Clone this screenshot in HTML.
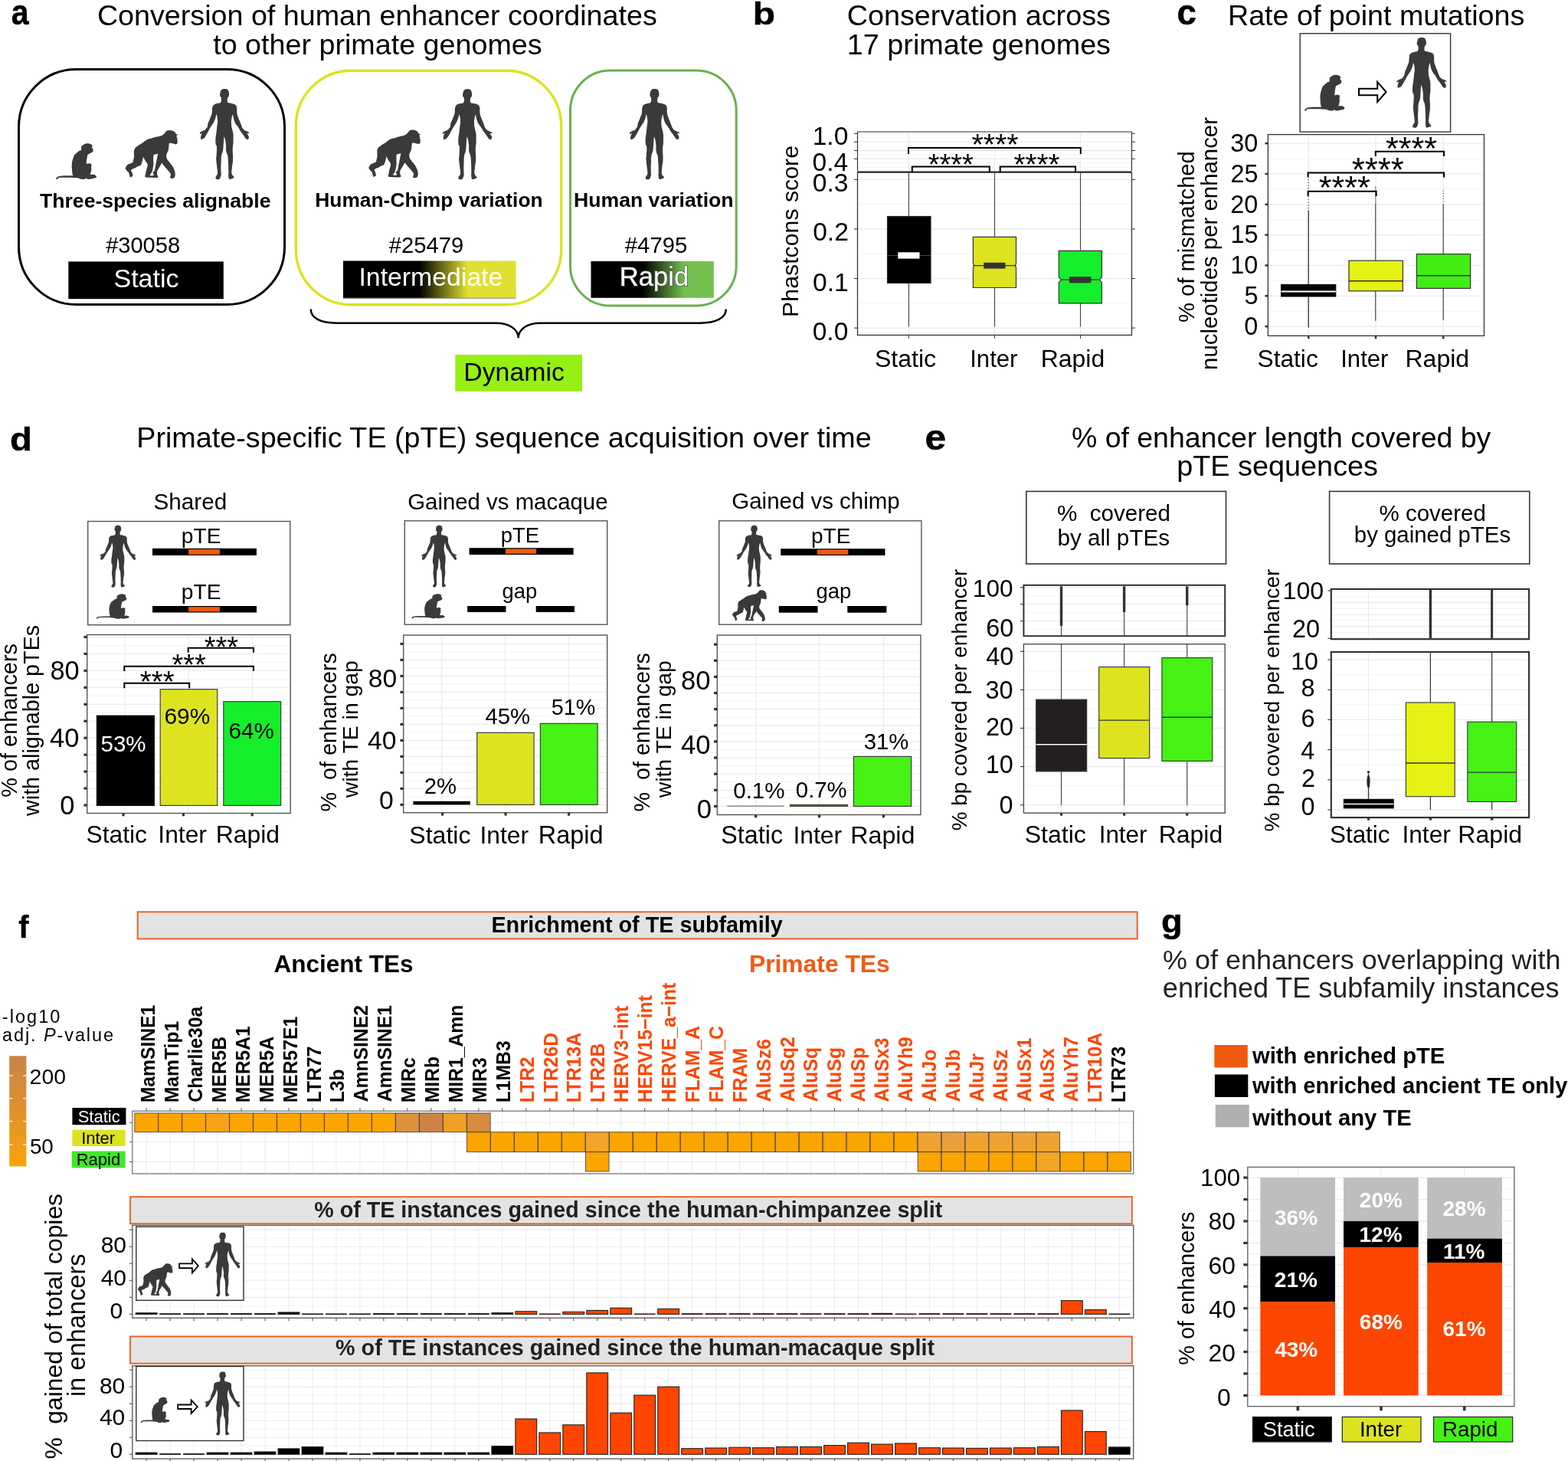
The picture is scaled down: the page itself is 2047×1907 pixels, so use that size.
<!DOCTYPE html>
<html><head><meta charset="utf-8"><title>Figure</title><style>html,body{margin:0;padding:0;background:#fff;}svg{display:block;}text{font-family:"Liberation Sans",Arial,Helvetica,sans-serif;}</style></head><body><svg width="2047" height="1907" viewBox="0 0 2047 1907"><rect x="0" y="0" width="2047" height="1907" fill="#fff"/><text transform="translate(14.77,32.14) scale(0.8904,1)" font-size="46.18" font-weight="bold" fill="#000" stroke="#000" stroke-width="0.5">a</text>
<text x="126.92" y="32.70" font-size="37.68" fill="#000">Conversion of human enhancer coordinates</text>
<text x="278.18" y="71.00" font-size="37.70" fill="#000">to other primate genomes</text>
<rect x="24.5" y="90.5" width="347" height="307" rx="75" ry="75" fill="none" stroke="#000" stroke-width="3"/>
<rect x="386.3" y="92.3" width="346.4" height="305.4" rx="72" ry="72" fill="none" stroke="#dde21f" stroke-width="3.4"/>
<rect x="744.5" y="92.1" width="216.7" height="306.9" rx="52" ry="52" fill="none" stroke="#6ab04c" stroke-width="3.0"/>
<defs><g id="mky"><path d="M1120,340 C1200,250 1300,210 1400,225 C1500,240 1560,280 1560,320 L1540,400 C1590,430 1610,480 1590,540 C1570,580 1520,600 1480,620 L1440,640 C1400,650 1370,670 1360,720 C1340,820 1320,950 1320,1050 C1380,1020 1470,1010 1520,1060 C1540,1100 1520,1130 1510,1160 C1540,1250 1520,1330 1490,1420 L1480,1490 C1560,1470 1640,1470 1700,1520 C1740,1560 1730,1600 1690,1610 C1600,1630 1500,1660 1400,1670 C1350,1660 1310,1620 1290,1620 C1290,1650 1250,1670 1200,1670 C1100,1665 1040,1640 1000,1620 C800,1600 400,1590 220,1600 C190,1610 180,1640 170,1660 C140,1680 100,1670 95,1640 C110,1610 140,1580 190,1550 C280,1520 500,1520 780,1520 C750,1460 740,1350 740,1250 C720,1150 730,1000 760,900 C790,800 820,720 840,690 C900,620 960,590 1030,520 L1110,500 C1110,440 1110,380 1120,340 Z" fill="#3a3a3a"/></g></defs>
<use href="#mky" transform="translate(73.10,187.00) scale(0.03238,0.03235) translate(-95.00,-215.00)"/>
<defs><g id="chp"><path d="M1430,140 C1520,105 1640,125 1705,190 L1728,245 L1788,262 L1748,305 C1775,380 1792,470 1780,540 C1765,575 1735,590 1700,580 C1640,560 1570,530 1510,550 C1500,650 1505,760 1460,830 C1415,900 1405,990 1445,1065 C1500,1130 1570,1230 1635,1310 C1675,1400 1710,1470 1708,1540 C1712,1620 1690,1685 1620,1688 C1575,1690 1535,1670 1540,1645 C1565,1600 1575,1555 1552,1520 C1500,1450 1440,1390 1400,1340 C1350,1290 1310,1240 1278,1190 C1230,1270 1170,1370 1125,1445 C1110,1510 1115,1580 1150,1615 C1165,1650 1130,1668 1080,1665 L760,1655 C720,1640 720,1600 745,1560 C760,1450 790,1350 820,1250 C800,1180 760,1150 740,1120 C710,1060 690,1020 670,990 C650,1100 630,1200 590,1260 C500,1290 430,1320 420,1350 C350,1370 290,1390 270,1430 C320,1500 340,1580 330,1610 C300,1640 260,1660 240,1640 C220,1580 215,1530 200,1500 C150,1450 110,1400 90,1360 C110,1300 150,1250 200,1220 C260,1210 300,1190 350,1150 C340,1130 330,1120 340,1110 C370,1050 380,980 370,880 C360,780 390,720 420,690 C480,640 560,590 660,530 C720,470 800,420 860,405 C940,390 1000,370 1050,350 C1150,330 1230,320 1270,300 C1340,270 1380,210 1430,140 Z" fill="#3a3a3a"/><path d="M1010,920 C1060,905 1110,895 1140,880 L1145,910 C1100,1100 1070,1300 1040,1440 C1000,1480 980,1500 975,1510 C990,1530 1020,1550 1010,1590 C980,1600 920,1600 885,1595 C900,1550 930,1510 950,1490 C980,1400 1000,1300 1005,1200 C1000,1100 990,1000 1010,920 Z" fill="#fff"/></g></defs>
<use href="#chp" transform="translate(163.40,169.40) scale(0.04023,0.04025) translate(-85.00,-110.00)"/>
<defs><g id="hum"><path d="M292.80,116.30 C294.53,116.27 295.09,116.23 296.50,116.90 C297.91,117.57 297.46,117.57 298.10,118.80 C298.74,120.03 298.66,119.98 298.90,121.50 C299.14,123.02 299.21,123.11 299.00,124.50 C298.79,125.89 298.63,125.63 298.10,126.70 C297.57,127.77 297.29,126.77 297.00,128.50 C296.71,130.23 296.52,131.60 297.00,133.20 C297.48,134.80 297.20,133.91 298.80,134.50 C300.40,135.09 301.00,134.87 303.00,135.40 C305.00,135.93 304.86,135.67 306.30,136.50 C307.74,137.33 307.63,137.17 308.40,138.50 C309.17,139.83 308.93,138.99 309.20,141.50 C309.47,144.01 308.92,144.67 309.40,147.90 C309.88,151.13 310.04,150.77 311.00,153.60 C311.96,156.43 312.01,155.99 313.00,158.50 C313.99,161.01 313.85,160.79 314.70,163.00 C315.55,165.21 315.19,165.07 316.20,166.80 C317.21,168.53 317.09,168.33 318.50,169.50 C319.91,170.67 319.87,170.37 321.50,171.20 C323.13,172.03 323.59,171.88 324.60,172.60 C325.61,173.32 325.59,173.53 325.30,173.90 C325.01,174.27 324.22,173.81 323.50,174.00 C322.78,174.19 322.47,173.80 322.60,174.60 C322.73,175.40 323.41,175.67 324.00,177.00 C324.59,178.33 324.91,178.29 324.80,179.60 C324.69,180.91 324.48,181.39 323.60,181.90 C322.72,182.41 322.46,182.01 321.50,181.50 C320.54,180.99 320.85,181.12 320.00,180.00 C319.15,178.88 319.29,178.77 318.30,177.30 C317.31,175.83 317.53,176.18 316.30,174.50 C315.07,172.82 314.85,172.73 313.70,171.00 C312.55,169.27 313.15,169.81 312.00,168.00 C310.85,166.19 310.89,166.52 309.40,164.20 C307.91,161.88 307.71,162.29 306.40,159.30 C305.09,156.31 305.19,155.53 304.50,153.00 C303.81,150.47 304.41,149.00 303.80,149.80 C303.19,150.60 302.68,152.75 302.20,156.00 C301.72,159.25 301.92,159.20 302.00,162.00 C302.08,164.80 302.07,164.15 302.50,166.50 C302.93,168.85 303.07,168.27 303.60,170.80 C304.13,173.33 304.26,173.28 304.50,176.00 C304.74,178.72 304.50,178.31 304.50,181.00 C304.50,183.69 304.71,182.18 304.50,186.10 C304.29,190.02 303.81,190.07 303.70,195.70 C303.59,201.33 304.31,201.07 304.10,207.20 C303.89,213.33 303.33,213.61 302.90,218.70 C302.47,223.79 301.94,223.15 302.50,226.30 C303.06,229.45 304.28,228.98 305.00,230.50 C305.72,232.02 306.00,231.25 305.20,232.00 C304.40,232.75 303.52,232.87 302.00,233.30 C300.48,233.73 300.49,234.43 299.50,233.60 C298.51,232.77 298.62,233.16 298.30,230.20 C297.98,227.24 298.38,227.11 298.30,222.50 C298.22,217.89 298.29,218.02 298.00,212.90 C297.71,207.78 297.92,207.38 297.20,203.30 C296.48,199.22 295.91,201.68 295.30,197.60 C294.69,193.52 295.43,192.69 294.90,188.00 C294.37,183.31 293.97,182.13 293.30,180.00 C292.63,177.87 292.80,177.87 292.40,180.00 C292.00,182.13 292.17,183.52 291.80,188.00 C291.43,192.48 291.72,192.72 291.00,196.80 C290.28,200.88 289.71,199.51 289.10,203.30 C288.49,207.09 288.89,206.39 288.70,211.00 C288.51,215.61 288.40,216.09 288.40,220.60 C288.40,225.11 288.81,225.26 288.70,227.90 C288.59,230.54 288.61,228.98 288.00,230.50 C287.39,232.02 287.73,232.72 286.40,233.60 C285.07,234.48 284.31,234.23 283.00,233.80 C281.69,233.37 281.63,233.15 281.50,232.00 C281.37,230.85 281.81,231.02 282.50,229.50 C283.19,227.98 283.86,229.18 284.10,226.30 C284.34,223.42 283.91,223.79 283.40,218.70 C282.89,213.61 282.41,211.31 282.20,207.20 C281.99,203.09 282.39,207.41 282.60,203.30 C282.81,199.19 283.21,195.67 283.00,191.80 C282.79,187.93 282.20,191.65 281.80,188.80 C281.40,185.95 281.29,185.39 281.50,181.10 C281.71,176.81 282.09,176.99 282.60,172.70 C283.11,168.41 283.00,169.08 283.40,165.00 C283.80,160.92 284.31,161.45 284.10,157.40 C283.89,153.35 283.29,150.81 282.60,149.80 C281.91,148.79 282.41,151.07 281.50,153.60 C280.59,156.13 280.61,156.47 279.20,159.30 C277.79,162.13 277.75,161.67 276.20,164.20 C274.65,166.73 274.97,166.03 273.40,168.80 C271.83,171.57 271.74,172.01 270.30,174.60 C268.86,177.19 269.12,176.87 268.00,178.50 C266.88,180.13 267.30,179.79 266.10,180.70 C264.90,181.61 264.51,181.69 263.50,181.90 C262.49,182.11 262.62,182.54 262.30,181.50 C261.98,180.46 261.93,180.00 262.30,178.00 C262.67,176.00 263.78,174.85 263.70,174.00 C263.62,173.15 262.72,174.80 262.00,174.80 C261.28,174.80 261.05,174.59 261.00,174.00 C260.95,173.41 260.87,173.40 261.80,172.60 C262.73,171.80 262.98,171.75 264.50,171.00 C266.02,170.25 266.17,170.73 267.50,169.80 C268.83,168.87 268.59,168.59 269.50,167.50 C270.41,166.41 270.34,167.41 270.90,165.70 C271.46,163.99 271.04,163.21 271.60,161.10 C272.16,158.99 272.28,159.51 273.00,157.80 C273.72,156.09 273.66,156.33 274.30,154.70 C274.94,153.07 274.76,153.51 275.40,151.70 C276.04,149.89 276.25,150.43 276.70,147.90 C277.15,145.37 276.83,144.52 277.10,142.20 C277.37,139.88 277.06,140.61 277.70,139.20 C278.34,137.79 278.22,137.86 279.50,136.90 C280.78,135.94 280.98,136.11 282.50,135.60 C284.02,135.09 283.68,135.51 285.20,135.00 C286.72,134.49 287.21,135.43 288.20,133.70 C289.19,131.97 288.98,130.37 288.90,128.50 C288.82,126.63 288.38,127.77 287.90,126.70 C287.42,125.63 287.21,125.89 287.10,124.50 C286.99,123.11 287.18,123.02 287.50,121.50 C287.82,119.98 287.63,120.00 288.30,118.80 C288.97,117.60 288.80,117.67 290.00,117.00 C291.20,116.33 291.07,116.33 292.80,116.30 Z" fill="#3a3a3a"/></g></defs>
<use href="#hum" transform="translate(260.90,116.00) scale(1.00311,1.00340) translate(-261.00,-116.30)"/>
<use href="#chp" transform="translate(481.00,169.00) scale(0.03988,0.04013) translate(-85.00,-110.00)"/>
<use href="#hum" transform="translate(577.70,116.20) scale(1.00933,1.00255) translate(-261.00,-116.30)"/>
<use href="#hum" transform="translate(822.00,116.00) scale(1.01089,1.00426) translate(-261.00,-116.30)"/>
<text x="52.03" y="270.70" font-size="26.60" font-weight="bold" fill="#000">Three-species alignable</text>
<text x="411.29" y="269.60" font-size="26.36" font-weight="bold" fill="#000">Human-Chimp variation</text>
<text x="748.97" y="269.60" font-size="26.63" font-weight="bold" fill="#000">Human variation</text>
<text x="138.15" y="329.80" font-size="29.06" fill="#000">#30058</text>
<text x="507.85" y="330.00" font-size="29.22" fill="#000">#25479</text>
<text x="815.85" y="330.00" font-size="29.25" fill="#000">#4795</text>
<defs><linearGradient id="gInt" x1="0" x2="1" y1="0" y2="0"><stop offset="0" stop-color="#000"/><stop offset="0.44" stop-color="#000"/><stop offset="0.72" stop-color="#e0e033"/><stop offset="1" stop-color="#e0e033"/></linearGradient><linearGradient id="gRap" x1="0" x2="1" y1="0" y2="0"><stop offset="0" stop-color="#000"/><stop offset="0.42" stop-color="#000"/><stop offset="0.76" stop-color="#74c04e"/><stop offset="1" stop-color="#74c04e"/></linearGradient></defs>
<rect x="89.30" y="341.40" width="202.50" height="48.80" fill="#000"/>
<text x="148.47" y="375.30" font-size="33.99" fill="#fff">Static</text>
<rect x="448.00" y="340.50" width="225.70" height="48.90" fill="url(#gInt)"/>
<line x1="448.00" y1="389.20" x2="673.70" y2="389.20" stroke="#888" stroke-width="1"/>
<text x="468.46" y="373.40" font-size="33.82" fill="#fff">Intermediate</text>
<rect x="771.50" y="341.00" width="160.30" height="47.80" fill="url(#gRap)"/>
<text x="808.83" y="373.40" font-size="34.56" fill="#fff" stroke="#555" stroke-width="1.6" paint-order="stroke">Rapid</text>
<path d="M405.7,403.6 C405.7,415 418,421.7 440,421.7 L648,421.7 C665,421.7 676.7,430 676.7,441.3 C676.7,430 688,421.7 705,421.7 L913,421.7 C935,421.7 947.8,415 947.8,403.6" fill="none" stroke="#000" stroke-width="2.4"/>
<rect x="594.30" y="463.00" width="165.70" height="47.70" fill="#96f013"/>
<text x="605.29" y="497.20" font-size="33.82" fill="#000">Dynamic</text>
<text transform="translate(982.69,32.29) scale(1.1702,1)" font-size="40.95" font-weight="bold" fill="#000" stroke="#000" stroke-width="0.5">b</text>
<text x="1105.71" y="32.70" font-size="37.77" fill="#000">Conservation across</text>
<text x="1105.87" y="70.60" font-size="37.76" fill="#000">17 primate genomes</text>
<rect x="1119.50" y="172.00" width="357.90" height="51.00" fill="#fff"/>
<line x1="1119.50" y1="179.80" x2="1477.40" y2="179.80" stroke="#f3f3f3" stroke-width="1"/>
<line x1="1119.50" y1="190.80" x2="1477.40" y2="190.80" stroke="#f3f3f3" stroke-width="1"/>
<line x1="1119.50" y1="201.90" x2="1477.40" y2="201.90" stroke="#f3f3f3" stroke-width="1"/>
<line x1="1119.50" y1="212.80" x2="1477.40" y2="212.80" stroke="#f3f3f3" stroke-width="1"/>
<line x1="1119.50" y1="218.50" x2="1477.40" y2="218.50" stroke="#f3f3f3" stroke-width="1"/>
<line x1="1119.50" y1="174.30" x2="1477.40" y2="174.30" stroke="#ebebeb" stroke-width="1.3"/>
<line x1="1119.50" y1="185.20" x2="1477.40" y2="185.20" stroke="#ebebeb" stroke-width="1.3"/>
<line x1="1119.50" y1="196.50" x2="1477.40" y2="196.50" stroke="#ebebeb" stroke-width="1.3"/>
<line x1="1119.50" y1="207.30" x2="1477.40" y2="207.30" stroke="#ebebeb" stroke-width="1.3"/>
<line x1="1186.40" y1="172.00" x2="1186.40" y2="223.00" stroke="#ebebeb" stroke-width="1.3"/>
<line x1="1298.50" y1="172.00" x2="1298.50" y2="223.00" stroke="#ebebeb" stroke-width="1.3"/>
<line x1="1410.50" y1="172.00" x2="1410.50" y2="223.00" stroke="#ebebeb" stroke-width="1.3"/>
<path d="M1119.5,223 L1119.5,172 L1477.4,172 L1477.4,223" fill="none" stroke="#333333" stroke-width="1.2"/>
<line x1="1115.00" y1="174.30" x2="1119.50" y2="174.30" stroke="#333333" stroke-width="1.1"/>
<line x1="1477.40" y1="174.30" x2="1481.90" y2="174.30" stroke="#333333" stroke-width="1.1"/>
<line x1="1115.00" y1="185.20" x2="1119.50" y2="185.20" stroke="#333333" stroke-width="1.1"/>
<line x1="1477.40" y1="185.20" x2="1481.90" y2="185.20" stroke="#333333" stroke-width="1.1"/>
<line x1="1115.00" y1="196.50" x2="1119.50" y2="196.50" stroke="#333333" stroke-width="1.1"/>
<line x1="1477.40" y1="196.50" x2="1481.90" y2="196.50" stroke="#333333" stroke-width="1.1"/>
<line x1="1115.00" y1="207.30" x2="1119.50" y2="207.30" stroke="#333333" stroke-width="1.1"/>
<line x1="1477.40" y1="207.30" x2="1481.90" y2="207.30" stroke="#333333" stroke-width="1.1"/>
<line x1="1119.50" y1="395.82" x2="1477.40" y2="395.82" stroke="#f3f3f3" stroke-width="1"/>
<line x1="1119.50" y1="331.26" x2="1477.40" y2="331.26" stroke="#f3f3f3" stroke-width="1"/>
<line x1="1119.50" y1="266.70" x2="1477.40" y2="266.70" stroke="#f3f3f3" stroke-width="1"/>
<line x1="1119.50" y1="428.10" x2="1477.40" y2="428.10" stroke="#ebebeb" stroke-width="1.3"/>
<line x1="1115.00" y1="428.10" x2="1119.50" y2="428.10" stroke="#333333" stroke-width="1.1"/>
<line x1="1477.40" y1="428.10" x2="1481.90" y2="428.10" stroke="#333333" stroke-width="1.1"/>
<line x1="1119.50" y1="363.54" x2="1477.40" y2="363.54" stroke="#ebebeb" stroke-width="1.3"/>
<line x1="1115.00" y1="363.54" x2="1119.50" y2="363.54" stroke="#333333" stroke-width="1.1"/>
<line x1="1477.40" y1="363.54" x2="1481.90" y2="363.54" stroke="#333333" stroke-width="1.1"/>
<line x1="1119.50" y1="298.98" x2="1477.40" y2="298.98" stroke="#ebebeb" stroke-width="1.3"/>
<line x1="1115.00" y1="298.98" x2="1119.50" y2="298.98" stroke="#333333" stroke-width="1.1"/>
<line x1="1477.40" y1="298.98" x2="1481.90" y2="298.98" stroke="#333333" stroke-width="1.1"/>
<line x1="1119.50" y1="234.42" x2="1477.40" y2="234.42" stroke="#ebebeb" stroke-width="1.3"/>
<line x1="1115.00" y1="234.42" x2="1119.50" y2="234.42" stroke="#333333" stroke-width="1.1"/>
<line x1="1477.40" y1="234.42" x2="1481.90" y2="234.42" stroke="#333333" stroke-width="1.1"/>
<line x1="1186.40" y1="225.00" x2="1186.40" y2="437.00" stroke="#ebebeb" stroke-width="1.3"/>
<line x1="1298.50" y1="225.00" x2="1298.50" y2="437.00" stroke="#ebebeb" stroke-width="1.3"/>
<line x1="1410.50" y1="225.00" x2="1410.50" y2="437.00" stroke="#ebebeb" stroke-width="1.3"/>
<line x1="1186.40" y1="225.50" x2="1186.40" y2="426.60" stroke="#444" stroke-width="1.1"/>
<line x1="1298.50" y1="225.50" x2="1298.50" y2="426.60" stroke="#444" stroke-width="1.1"/>
<line x1="1410.50" y1="225.50" x2="1410.50" y2="426.60" stroke="#444" stroke-width="1.1"/>
<rect x="1158.50" y="282.50" width="56.50" height="87.00" fill="#000" stroke="#222" stroke-width="1.2"/>
<line x1="1158.50" y1="333.50" x2="1215.00" y2="333.50" stroke="#444" stroke-width="1.2"/>
<rect x="1172.30" y="329.30" width="28.20" height="8.30" fill="#fff"/>
<path d="M1270.40,309.40 L1326.50,309.40 L1326.50,343.60 L1325.30,346.60 L1326.50,349.60 L1326.50,375.50 L1270.40,375.50 L1270.40,349.60 L1271.60,346.60 L1270.40,343.60 Z" fill="#dde31f" stroke="#333333" stroke-width="1.2"/>
<line x1="1270.40" y1="346.60" x2="1326.50" y2="346.60" stroke="#333" stroke-width="1.3"/>
<rect x="1284.20" y="342.80" width="28.20" height="7.80" fill="#333"/>
<path d="M1382.30,327.30 L1438.40,327.30 L1438.40,361.70 L1435.40,365.20 L1438.40,368.70 L1438.40,395.90 L1382.30,395.90 L1382.30,368.70 L1385.30,365.20 L1382.30,361.70 Z" fill="#15ee2a" stroke="#333333" stroke-width="1.2"/>
<line x1="1386.00" y1="365.20" x2="1434.70" y2="365.20" stroke="#333" stroke-width="1.3"/>
<rect x="1396.00" y="361.20" width="28.30" height="8.10" fill="#333"/>
<rect x="1119.50" y="224.90" width="357.90" height="212.50" fill="none" stroke="#333333" stroke-width="1.3"/>
<line x1="1119.50" y1="224.50" x2="1477.40" y2="224.50" stroke="#222" stroke-width="2"/>
<line x1="1186.40" y1="437.40" x2="1186.40" y2="441.70" stroke="#333333" stroke-width="1.1"/>
<line x1="1298.50" y1="437.40" x2="1298.50" y2="441.70" stroke="#333333" stroke-width="1.1"/>
<line x1="1410.50" y1="437.40" x2="1410.50" y2="441.70" stroke="#333333" stroke-width="1.1"/>
<text x="1060.67" y="189.19" font-size="33.60" fill="#000">1.0</text>
<text x="1060.50" y="223.09" font-size="33.60" fill="#000">0.4</text>
<text x="1060.84" y="249.89" font-size="33.60" fill="#000">0.3</text>
<text x="1061.18" y="314.29" font-size="33.60" fill="#000">0.2</text>
<text x="1061.01" y="379.69" font-size="33.60" fill="#000">0.1</text>
<text x="1060.67" y="443.89" font-size="33.60" fill="#000">0.0</text>
<text x="1141.96" y="479.40" font-size="32.06" fill="#000">Static</text>
<text x="1266.20" y="479.40" font-size="31.13" fill="#000">Inter</text>
<text x="1358.85" y="479.40" font-size="31.89" fill="#000">Rapid</text>
<text transform="translate(1042.46,413.92) rotate(-90)" font-size="30.30" fill="#000">Phastcons score</text>
<path d="M1186.00,201.00 L1186.00,193.00 L1410.80,193.00 L1410.80,201.00" fill="none" stroke="#000" stroke-width="2" stroke-linejoin="miter" stroke-linecap="butt"/>
<text x="1268.41" y="201.80" font-size="39.28" fill="#000">****</text>
<path d="M1190.80,224.40 L1190.80,217.60 L1291.80,217.60 L1291.80,224.40" fill="none" stroke="#000" stroke-width="2" stroke-linejoin="miter" stroke-linecap="butt"/>
<text x="1211.73" y="227.64" font-size="38.03" fill="#000">****</text>
<path d="M1305.70,224.40 L1305.70,217.60 L1404.00,217.60 L1404.00,224.40" fill="none" stroke="#000" stroke-width="2" stroke-linejoin="miter" stroke-linecap="butt"/>
<text x="1323.42" y="228.00" font-size="38.56" fill="#000">****</text>
<text transform="translate(1536.48,32.44) scale(0.9906,1)" font-size="46.00" font-weight="bold" fill="#000" stroke="#000" stroke-width="0.5">c</text>
<text x="1602.99" y="32.50" font-size="37.66" fill="#000">Rate of point mutations</text>
<rect x="1697.20" y="43.70" width="196.40" height="128.50" fill="#fff" stroke="#333" stroke-width="1.4"/>
<use href="#mky" transform="translate(1703.00,97.50) scale(0.03213,0.03235) translate(-95.00,-215.00)"/>
<path d="M1774.00,115.84 L1798.21,115.84 L1798.21,107.00 L1809.60,120.00 L1798.21,133.00 L1798.21,124.16 L1774.00,124.16 Z" fill="#fff" stroke="#000" stroke-width="2" stroke-linejoin="miter"/>
<use href="#hum" transform="translate(1823.40,48.90) scale(1.01089,1.00085) translate(-261.00,-116.30)"/>
<rect x="1655.40" y="175.60" width="282.10" height="262.70" fill="#fff"/>
<line x1="1655.40" y1="406.19" x2="1937.50" y2="406.19" stroke="#f3f3f3" stroke-width="1"/>
<line x1="1655.40" y1="366.36" x2="1937.50" y2="366.36" stroke="#f3f3f3" stroke-width="1"/>
<line x1="1655.40" y1="326.54" x2="1937.50" y2="326.54" stroke="#f3f3f3" stroke-width="1"/>
<line x1="1655.40" y1="286.71" x2="1937.50" y2="286.71" stroke="#f3f3f3" stroke-width="1"/>
<line x1="1655.40" y1="246.89" x2="1937.50" y2="246.89" stroke="#f3f3f3" stroke-width="1"/>
<line x1="1655.40" y1="207.06" x2="1937.50" y2="207.06" stroke="#f3f3f3" stroke-width="1"/>
<line x1="1655.40" y1="426.10" x2="1937.50" y2="426.10" stroke="#ebebeb" stroke-width="1.3"/>
<line x1="1655.40" y1="386.28" x2="1937.50" y2="386.28" stroke="#ebebeb" stroke-width="1.3"/>
<line x1="1655.40" y1="346.45" x2="1937.50" y2="346.45" stroke="#ebebeb" stroke-width="1.3"/>
<line x1="1655.40" y1="306.62" x2="1937.50" y2="306.62" stroke="#ebebeb" stroke-width="1.3"/>
<line x1="1655.40" y1="266.80" x2="1937.50" y2="266.80" stroke="#ebebeb" stroke-width="1.3"/>
<line x1="1655.40" y1="226.98" x2="1937.50" y2="226.98" stroke="#ebebeb" stroke-width="1.3"/>
<line x1="1655.40" y1="187.15" x2="1937.50" y2="187.15" stroke="#ebebeb" stroke-width="1.3"/>
<line x1="1708.30" y1="175.60" x2="1708.30" y2="438.30" stroke="#ebebeb" stroke-width="1.3"/>
<line x1="1796.00" y1="175.60" x2="1796.00" y2="438.30" stroke="#ebebeb" stroke-width="1.3"/>
<line x1="1884.20" y1="175.60" x2="1884.20" y2="438.30" stroke="#ebebeb" stroke-width="1.3"/>
<line x1="1708.20" y1="274.40" x2="1708.20" y2="427.40" stroke="#222" stroke-width="1.2"/>
<line x1="1708.20" y1="234.00" x2="1708.20" y2="274.40" stroke="#333" stroke-width="1.2" stroke-dasharray="1.2,2.5"/>
<line x1="1795.80" y1="266.60" x2="1795.80" y2="418.80" stroke="#333" stroke-width="1.1"/>
<line x1="1795.80" y1="243.70" x2="1795.80" y2="266.60" stroke="#333" stroke-width="1.3" stroke-dasharray="1.5,1.5"/>
<line x1="1884.20" y1="266.60" x2="1884.20" y2="418.00" stroke="#333" stroke-width="1.1"/>
<line x1="1884.20" y1="248.40" x2="1884.20" y2="266.60" stroke="#333" stroke-width="1.2" stroke-dasharray="1,2.5"/>
<rect x="1672.50" y="371.40" width="71.30" height="15.60" fill="#000" stroke="#000" stroke-width="1"/>
<line x1="1672.50" y1="380.50" x2="1743.80" y2="380.50" stroke="#fff" stroke-width="1.8"/>
<rect x="1761.00" y="340.20" width="70.40" height="39.60" fill="#e5f214" stroke="#333" stroke-width="1.2"/>
<line x1="1761.00" y1="366.80" x2="1831.40" y2="366.80" stroke="#333" stroke-width="1.5"/>
<rect x="1849.40" y="331.60" width="70.20" height="44.80" fill="#40ee14" stroke="#333" stroke-width="1.2"/>
<line x1="1849.40" y1="359.70" x2="1919.60" y2="359.70" stroke="#333" stroke-width="1.5"/>
<rect x="1655.40" y="175.60" width="282.10" height="262.70" fill="none" stroke="#333333" stroke-width="1.3"/>
<line x1="1651.40" y1="426.10" x2="1655.40" y2="426.10" stroke="#333" stroke-width="2.5"/>
<line x1="1651.40" y1="386.28" x2="1655.40" y2="386.28" stroke="#333" stroke-width="2.5"/>
<line x1="1651.40" y1="346.45" x2="1655.40" y2="346.45" stroke="#333" stroke-width="2.5"/>
<line x1="1651.40" y1="306.62" x2="1655.40" y2="306.62" stroke="#333" stroke-width="2.5"/>
<line x1="1651.40" y1="266.80" x2="1655.40" y2="266.80" stroke="#333" stroke-width="2.5"/>
<line x1="1651.40" y1="226.98" x2="1655.40" y2="226.98" stroke="#333" stroke-width="2.5"/>
<line x1="1651.40" y1="187.15" x2="1655.40" y2="187.15" stroke="#333" stroke-width="2.5"/>
<line x1="1708.30" y1="438.30" x2="1708.30" y2="442.30" stroke="#333" stroke-width="2.5"/>
<line x1="1796.00" y1="438.30" x2="1796.00" y2="442.30" stroke="#333" stroke-width="2.5"/>
<line x1="1884.20" y1="438.30" x2="1884.20" y2="442.30" stroke="#333" stroke-width="2.5"/>
<text x="1606.37" y="198.03" font-size="32.40" fill="#000">30</text>
<text x="1606.53" y="237.85" font-size="32.40" fill="#000">25</text>
<text x="1606.37" y="277.68" font-size="32.40" fill="#000">20</text>
<text x="1606.53" y="317.34" font-size="32.40" fill="#000">15</text>
<text x="1606.37" y="357.33" font-size="32.40" fill="#000">10</text>
<text x="1624.51" y="396.99" font-size="32.40" fill="#000">5</text>
<text x="1624.35" y="436.98" font-size="32.40" fill="#000">0</text>
<text x="1641.58" y="478.60" font-size="31.65" fill="#000">Static</text>
<text x="1750.20" y="478.60" font-size="31.13" fill="#000">Inter</text>
<text x="1834.44" y="478.60" font-size="32.05" fill="#000">Rapid</text>
<text transform="translate(1558.60,421.02) rotate(-90)" font-size="29.19" fill="#000">% of mismatched</text>
<text transform="translate(1588.50,482.91) rotate(-90)" font-size="29.39" fill="#000">nucleotides per enhancer</text>
<path d="M1795.80,204.00 L1795.80,197.70 L1885.00,197.70 L1885.00,204.00" fill="none" stroke="#000" stroke-width="2" stroke-linejoin="miter" stroke-linecap="butt"/>
<text x="1808.95" y="207.97" font-size="43.15" fill="#000">****</text>
<path d="M1707.60,231.50 L1707.60,225.50 L1885.00,225.50 L1885.00,231.50" fill="none" stroke="#000" stroke-width="2" stroke-linejoin="miter" stroke-linecap="butt"/>
<text x="1764.74" y="237.02" font-size="43.80" fill="#000">****</text>
<path d="M1707.60,256.00 L1707.60,249.70 L1796.60,249.70 L1796.60,256.00" fill="none" stroke="#000" stroke-width="2" stroke-linejoin="miter" stroke-linecap="butt"/>
<text x="1721.86" y="259.04" font-size="42.95" fill="#000">****</text>
<text transform="translate(12.91,588.18) scale(1.1368,1)" font-size="41.63" font-weight="bold" fill="#000" stroke="#000" stroke-width="0.5">d</text>
<text x="178.28" y="584.40" font-size="37.72" fill="#000">Primate-specific TE (pTE) sequence acquisition over time</text>
<text x="200.46" y="665.30" font-size="29.70" fill="#000">Shared</text>
<rect x="114.70" y="680.50" width="264.10" height="135.20" fill="#fff" stroke="#555" stroke-width="1.4"/>
<use href="#hum" transform="translate(130.40,685.80) scale(0.73250,0.68681) translate(-261.00,-116.30)"/>
<use href="#mky" transform="translate(125.70,775.20) scale(0.02640,0.02239) translate(-95.00,-215.00)"/>
<rect x="199.00" y="715.80" width="135.90" height="9.10" fill="#000"/>
<rect x="246.10" y="717.00" width="40.80" height="6.70" fill="#f05a0f"/>
<text x="236.87" y="709.00" font-size="28.17" fill="#000">pTE</text>
<rect x="199.00" y="791.00" width="136.00" height="8.50" fill="#000"/>
<rect x="246.10" y="792.20" width="40.80" height="6.10" fill="#f05a0f"/>
<text x="236.87" y="781.50" font-size="28.17" fill="#000">pTE</text>
<rect x="113.70" y="828.50" width="265.50" height="233.00" fill="#fff"/>
<line x1="113.70" y1="1040.03" x2="379.20" y2="1040.03" stroke="#f3f3f3" stroke-width="1"/>
<line x1="113.70" y1="1018.08" x2="379.20" y2="1018.08" stroke="#f3f3f3" stroke-width="1"/>
<line x1="113.70" y1="996.12" x2="379.20" y2="996.12" stroke="#f3f3f3" stroke-width="1"/>
<line x1="113.70" y1="974.17" x2="379.20" y2="974.17" stroke="#f3f3f3" stroke-width="1"/>
<line x1="113.70" y1="952.23" x2="379.20" y2="952.23" stroke="#f3f3f3" stroke-width="1"/>
<line x1="113.70" y1="930.27" x2="379.20" y2="930.27" stroke="#f3f3f3" stroke-width="1"/>
<line x1="113.70" y1="908.33" x2="379.20" y2="908.33" stroke="#f3f3f3" stroke-width="1"/>
<line x1="113.70" y1="886.38" x2="379.20" y2="886.38" stroke="#f3f3f3" stroke-width="1"/>
<line x1="113.70" y1="864.42" x2="379.20" y2="864.42" stroke="#f3f3f3" stroke-width="1"/>
<line x1="113.70" y1="842.48" x2="379.20" y2="842.48" stroke="#f3f3f3" stroke-width="1"/>
<line x1="113.70" y1="1051.00" x2="379.20" y2="1051.00" stroke="#ebebeb" stroke-width="1.2"/>
<line x1="113.70" y1="1029.05" x2="379.20" y2="1029.05" stroke="#ebebeb" stroke-width="1.2"/>
<line x1="113.70" y1="1007.10" x2="379.20" y2="1007.10" stroke="#ebebeb" stroke-width="1.2"/>
<line x1="113.70" y1="985.15" x2="379.20" y2="985.15" stroke="#ebebeb" stroke-width="1.2"/>
<line x1="113.70" y1="963.20" x2="379.20" y2="963.20" stroke="#ebebeb" stroke-width="1.2"/>
<line x1="113.70" y1="941.25" x2="379.20" y2="941.25" stroke="#ebebeb" stroke-width="1.2"/>
<line x1="113.70" y1="919.30" x2="379.20" y2="919.30" stroke="#ebebeb" stroke-width="1.2"/>
<line x1="113.70" y1="897.35" x2="379.20" y2="897.35" stroke="#ebebeb" stroke-width="1.2"/>
<line x1="113.70" y1="875.40" x2="379.20" y2="875.40" stroke="#ebebeb" stroke-width="1.2"/>
<line x1="113.70" y1="853.45" x2="379.20" y2="853.45" stroke="#ebebeb" stroke-width="1.2"/>
<line x1="113.70" y1="831.50" x2="379.20" y2="831.50" stroke="#ebebeb" stroke-width="1.2"/>
<line x1="163.30" y1="828.50" x2="163.30" y2="1061.50" stroke="#ebebeb" stroke-width="1.2"/>
<line x1="246.10" y1="828.50" x2="246.10" y2="1061.50" stroke="#ebebeb" stroke-width="1.2"/>
<line x1="329.60" y1="828.50" x2="329.60" y2="1061.50" stroke="#ebebeb" stroke-width="1.2"/>
<rect x="126.30" y="934.10" width="75.10" height="117.30" fill="#000" stroke="#000" stroke-width="1"/>
<rect x="209.20" y="899.70" width="74.60" height="151.70" fill="#dde31f" stroke="#333" stroke-width="1.1"/>
<rect x="291.80" y="915.70" width="74.80" height="135.70" fill="#15ee2a" stroke="#333" stroke-width="1.1"/>
<rect x="113.70" y="828.50" width="265.50" height="233.00" fill="none" stroke="#555" stroke-width="1.4"/>
<rect x="109.40" y="1049.40" width="4.30" height="3.20" fill="#333"/>
<rect x="109.40" y="1027.45" width="4.30" height="3.20" fill="#333"/>
<rect x="109.40" y="1005.50" width="4.30" height="3.20" fill="#333"/>
<rect x="109.40" y="983.55" width="4.30" height="3.20" fill="#333"/>
<rect x="109.40" y="961.60" width="4.30" height="3.20" fill="#333"/>
<rect x="109.40" y="939.65" width="4.30" height="3.20" fill="#333"/>
<rect x="109.40" y="917.70" width="4.30" height="3.20" fill="#333"/>
<rect x="109.40" y="895.75" width="4.30" height="3.20" fill="#333"/>
<rect x="109.40" y="873.80" width="4.30" height="3.20" fill="#333"/>
<rect x="109.40" y="851.85" width="4.30" height="3.20" fill="#333"/>
<rect x="109.40" y="829.90" width="4.30" height="3.20" fill="#333"/>
<rect x="159.40" y="1061.50" width="3.20" height="3.80" fill="#333"/>
<rect x="237.80" y="1061.50" width="3.20" height="3.80" fill="#333"/>
<rect x="327.60" y="1061.50" width="3.20" height="3.80" fill="#333"/>
<text x="65.42" y="887.32" font-size="34.40" fill="#000">80</text>
<text x="65.12" y="975.17" font-size="34.40" fill="#000">40</text>
<text x="78.21" y="1063.27" font-size="34.40" fill="#000">0</text>
<text x="131.52" y="980.60" font-size="29.51" fill="#fff">53%</text>
<text x="214.51" y="945.00" font-size="29.87" fill="#000">69%</text>
<text x="298.52" y="963.70" font-size="29.56" fill="#000">64%</text>
<path d="M245.70,851.70 L245.70,845.80 L331.00,845.80 L331.00,851.70" fill="none" stroke="#000" stroke-width="2" stroke-linejoin="miter" stroke-linecap="butt"/>
<text x="266.73" y="857.81" font-size="37.98" fill="#000">***</text>
<path d="M162.30,876.00 L162.30,869.70 L331.00,869.70 L331.00,876.00" fill="none" stroke="#000" stroke-width="2" stroke-linejoin="miter" stroke-linecap="butt"/>
<text x="224.43" y="881.11" font-size="37.98" fill="#000">***</text>
<path d="M162.30,898.20 L162.30,891.80 L247.20,891.80 L247.20,898.20" fill="none" stroke="#000" stroke-width="2" stroke-linejoin="miter" stroke-linecap="butt"/>
<text x="182.83" y="903.05" font-size="38.33" fill="#000">***</text>
<text x="112.57" y="1100.00" font-size="31.77" fill="#000">Static</text>
<text x="206.34" y="1100.00" font-size="31.77" fill="#000">Inter</text>
<text x="281.64" y="1100.00" font-size="31.97" fill="#000">Rapid</text>
<text transform="translate(21.50,1040.71) rotate(-90)" font-size="28.88" fill="#000">% of enhancers</text>
<text transform="translate(50.70,1065.00) rotate(-90)" font-size="28.74" fill="#000">with alignable pTEs</text>
<text x="532.23" y="664.70" font-size="29.39" fill="#000">Gained vs macaque</text>
<rect x="528.30" y="679.80" width="264.40" height="135.40" fill="#fff" stroke="#555" stroke-width="1.4"/>
<use href="#hum" transform="translate(550.20,685.80) scale(0.72006,0.68511) translate(-261.00,-116.30)"/>
<use href="#mky" transform="translate(537.20,775.00) scale(0.02671,0.02218) translate(-95.00,-215.00)"/>
<rect x="612.60" y="715.20" width="136.00" height="8.80" fill="#000"/>
<rect x="659.90" y="716.40" width="40.20" height="6.40" fill="#f05a0f"/>
<text x="653.72" y="708.00" font-size="27.42" fill="#000">pTE</text>
<rect x="610.20" y="791.00" width="50.30" height="8.00" fill="#000"/>
<rect x="699.70" y="791.00" width="50.30" height="8.00" fill="#000"/>
<text x="655.40" y="780.60" font-size="27.44" fill="#000">gap</text>
<rect x="526.70" y="829.00" width="266.00" height="231.80" fill="#fff"/>
<line x1="526.70" y1="1039.90" x2="792.70" y2="1039.90" stroke="#f3f3f3" stroke-width="1"/>
<line x1="526.70" y1="1018.90" x2="792.70" y2="1018.90" stroke="#f3f3f3" stroke-width="1"/>
<line x1="526.70" y1="997.90" x2="792.70" y2="997.90" stroke="#f3f3f3" stroke-width="1"/>
<line x1="526.70" y1="976.90" x2="792.70" y2="976.90" stroke="#f3f3f3" stroke-width="1"/>
<line x1="526.70" y1="955.90" x2="792.70" y2="955.90" stroke="#f3f3f3" stroke-width="1"/>
<line x1="526.70" y1="934.90" x2="792.70" y2="934.90" stroke="#f3f3f3" stroke-width="1"/>
<line x1="526.70" y1="913.90" x2="792.70" y2="913.90" stroke="#f3f3f3" stroke-width="1"/>
<line x1="526.70" y1="892.90" x2="792.70" y2="892.90" stroke="#f3f3f3" stroke-width="1"/>
<line x1="526.70" y1="871.90" x2="792.70" y2="871.90" stroke="#f3f3f3" stroke-width="1"/>
<line x1="526.70" y1="850.90" x2="792.70" y2="850.90" stroke="#f3f3f3" stroke-width="1"/>
<line x1="526.70" y1="1050.40" x2="792.70" y2="1050.40" stroke="#ebebeb" stroke-width="1.2"/>
<line x1="526.70" y1="1029.40" x2="792.70" y2="1029.40" stroke="#ebebeb" stroke-width="1.2"/>
<line x1="526.70" y1="1008.40" x2="792.70" y2="1008.40" stroke="#ebebeb" stroke-width="1.2"/>
<line x1="526.70" y1="987.40" x2="792.70" y2="987.40" stroke="#ebebeb" stroke-width="1.2"/>
<line x1="526.70" y1="966.40" x2="792.70" y2="966.40" stroke="#ebebeb" stroke-width="1.2"/>
<line x1="526.70" y1="945.40" x2="792.70" y2="945.40" stroke="#ebebeb" stroke-width="1.2"/>
<line x1="526.70" y1="924.40" x2="792.70" y2="924.40" stroke="#ebebeb" stroke-width="1.2"/>
<line x1="526.70" y1="903.40" x2="792.70" y2="903.40" stroke="#ebebeb" stroke-width="1.2"/>
<line x1="526.70" y1="882.40" x2="792.70" y2="882.40" stroke="#ebebeb" stroke-width="1.2"/>
<line x1="526.70" y1="861.40" x2="792.70" y2="861.40" stroke="#ebebeb" stroke-width="1.2"/>
<line x1="526.70" y1="840.40" x2="792.70" y2="840.40" stroke="#ebebeb" stroke-width="1.2"/>
<line x1="576.60" y1="829.00" x2="576.60" y2="1060.80" stroke="#ebebeb" stroke-width="1.2"/>
<line x1="659.50" y1="829.00" x2="659.50" y2="1060.80" stroke="#ebebeb" stroke-width="1.2"/>
<line x1="742.60" y1="829.00" x2="742.60" y2="1060.80" stroke="#ebebeb" stroke-width="1.2"/>
<rect x="539.40" y="1045.80" width="74.40" height="4.60" fill="#000"/>
<rect x="622.70" y="956.40" width="74.40" height="94.00" fill="#dde31f" stroke="#333" stroke-width="1.1"/>
<rect x="705.40" y="944.30" width="74.80" height="106.10" fill="#45f214" stroke="#333" stroke-width="1.1"/>
<rect x="526.70" y="829.00" width="266.00" height="231.80" fill="none" stroke="#555" stroke-width="1.4"/>
<rect x="522.40" y="1048.80" width="4.30" height="3.20" fill="#333"/>
<rect x="522.40" y="1027.80" width="4.30" height="3.20" fill="#333"/>
<rect x="522.40" y="1006.80" width="4.30" height="3.20" fill="#333"/>
<rect x="522.40" y="985.80" width="4.30" height="3.20" fill="#333"/>
<rect x="522.40" y="964.80" width="4.30" height="3.20" fill="#333"/>
<rect x="522.40" y="943.80" width="4.30" height="3.20" fill="#333"/>
<rect x="522.40" y="922.80" width="4.30" height="3.20" fill="#333"/>
<rect x="522.40" y="901.80" width="4.30" height="3.20" fill="#333"/>
<rect x="522.40" y="880.80" width="4.30" height="3.20" fill="#333"/>
<rect x="522.40" y="859.80" width="4.30" height="3.20" fill="#333"/>
<rect x="522.40" y="838.80" width="4.30" height="3.20" fill="#333"/>
<rect x="576.00" y="1060.80" width="3.20" height="3.80" fill="#333"/>
<rect x="658.50" y="1060.80" width="3.20" height="3.80" fill="#333"/>
<rect x="741.00" y="1060.80" width="3.20" height="3.80" fill="#333"/>
<text x="480.87" y="897.13" font-size="33.70" fill="#000">80</text>
<text x="480.07" y="977.73" font-size="33.70" fill="#000">40</text>
<text x="494.98" y="1056.03" font-size="33.70" fill="#000">0</text>
<text x="553.84" y="1036.30" font-size="29.26" fill="#000">2%</text>
<text x="633.41" y="945.10" font-size="29.36" fill="#000">45%</text>
<text x="719.75" y="933.10" font-size="28.73" fill="#000">51%</text>
<text x="534.36" y="1100.70" font-size="32.02" fill="#000">Static</text>
<text x="626.43" y="1100.70" font-size="31.87" fill="#000">Inter</text>
<text x="702.81" y="1100.70" font-size="32.41" fill="#000">Rapid</text>
<text transform="translate(439.20,1059.40) rotate(-90)" font-size="28.68" fill="#000">%  of enhancers</text>
<text transform="translate(467.00,1041.30) rotate(-90)" font-size="28.37" fill="#000">with TE in gap</text>
<text x="955.33" y="663.90" font-size="29.46" fill="#000">Gained vs chimp</text>
<rect x="938.70" y="679.80" width="264.20" height="135.40" fill="#fff" stroke="#555" stroke-width="1.4"/>
<use href="#hum" transform="translate(961.40,685.80) scale(0.72006,0.68255) translate(-261.00,-116.30)"/>
<use href="#chp" transform="translate(955.80,770.00) scale(0.02651,0.02595) translate(-85.00,-110.00)"/>
<rect x="1019.20" y="716.20" width="136.20" height="8.80" fill="#000"/>
<rect x="1066.90" y="717.40" width="40.40" height="6.40" fill="#f05a0f"/>
<text x="1058.98" y="708.50" font-size="28.00" fill="#000">pTE</text>
<rect x="1016.80" y="791.00" width="50.70" height="8.70" fill="#000"/>
<rect x="1106.30" y="791.00" width="51.10" height="8.70" fill="#000"/>
<text x="1065.40" y="781.00" font-size="27.51" fill="#000">gap</text>
<rect x="936.30" y="829.00" width="265.60" height="234.50" fill="#fff"/>
<line x1="936.30" y1="1041.84" x2="1201.90" y2="1041.84" stroke="#f3f3f3" stroke-width="1"/>
<line x1="936.30" y1="1020.71" x2="1201.90" y2="1020.71" stroke="#f3f3f3" stroke-width="1"/>
<line x1="936.30" y1="999.59" x2="1201.90" y2="999.59" stroke="#f3f3f3" stroke-width="1"/>
<line x1="936.30" y1="978.46" x2="1201.90" y2="978.46" stroke="#f3f3f3" stroke-width="1"/>
<line x1="936.30" y1="957.34" x2="1201.90" y2="957.34" stroke="#f3f3f3" stroke-width="1"/>
<line x1="936.30" y1="936.21" x2="1201.90" y2="936.21" stroke="#f3f3f3" stroke-width="1"/>
<line x1="936.30" y1="915.09" x2="1201.90" y2="915.09" stroke="#f3f3f3" stroke-width="1"/>
<line x1="936.30" y1="893.96" x2="1201.90" y2="893.96" stroke="#f3f3f3" stroke-width="1"/>
<line x1="936.30" y1="872.84" x2="1201.90" y2="872.84" stroke="#f3f3f3" stroke-width="1"/>
<line x1="936.30" y1="851.71" x2="1201.90" y2="851.71" stroke="#f3f3f3" stroke-width="1"/>
<line x1="936.30" y1="1052.40" x2="1201.90" y2="1052.40" stroke="#ebebeb" stroke-width="1.2"/>
<line x1="936.30" y1="1031.28" x2="1201.90" y2="1031.28" stroke="#ebebeb" stroke-width="1.2"/>
<line x1="936.30" y1="1010.15" x2="1201.90" y2="1010.15" stroke="#ebebeb" stroke-width="1.2"/>
<line x1="936.30" y1="989.03" x2="1201.90" y2="989.03" stroke="#ebebeb" stroke-width="1.2"/>
<line x1="936.30" y1="967.90" x2="1201.90" y2="967.90" stroke="#ebebeb" stroke-width="1.2"/>
<line x1="936.30" y1="946.78" x2="1201.90" y2="946.78" stroke="#ebebeb" stroke-width="1.2"/>
<line x1="936.30" y1="925.65" x2="1201.90" y2="925.65" stroke="#ebebeb" stroke-width="1.2"/>
<line x1="936.30" y1="904.53" x2="1201.90" y2="904.53" stroke="#ebebeb" stroke-width="1.2"/>
<line x1="936.30" y1="883.40" x2="1201.90" y2="883.40" stroke="#ebebeb" stroke-width="1.2"/>
<line x1="936.30" y1="862.28" x2="1201.90" y2="862.28" stroke="#ebebeb" stroke-width="1.2"/>
<line x1="936.30" y1="841.15" x2="1201.90" y2="841.15" stroke="#ebebeb" stroke-width="1.2"/>
<line x1="986.60" y1="829.00" x2="986.60" y2="1063.50" stroke="#ebebeb" stroke-width="1.2"/>
<line x1="1069.50" y1="829.00" x2="1069.50" y2="1063.50" stroke="#ebebeb" stroke-width="1.2"/>
<line x1="1153.40" y1="829.00" x2="1153.40" y2="1063.50" stroke="#ebebeb" stroke-width="1.2"/>
<rect x="949.40" y="1051.60" width="74.20" height="1.00" fill="#555"/>
<rect x="1031.30" y="1050.20" width="75.40" height="2.40" fill="#5a5a10" stroke="#333" stroke-width="0.8"/>
<rect x="1114.40" y="987.40" width="75.20" height="65.00" fill="#45f214" stroke="#333" stroke-width="1.1"/>
<rect x="936.30" y="829.00" width="265.60" height="234.50" fill="none" stroke="#555" stroke-width="1.4"/>
<rect x="932.00" y="1050.80" width="4.30" height="3.20" fill="#333"/>
<rect x="932.00" y="1029.68" width="4.30" height="3.20" fill="#333"/>
<rect x="932.00" y="1008.55" width="4.30" height="3.20" fill="#333"/>
<rect x="932.00" y="987.43" width="4.30" height="3.20" fill="#333"/>
<rect x="932.00" y="966.30" width="4.30" height="3.20" fill="#333"/>
<rect x="932.00" y="945.18" width="4.30" height="3.20" fill="#333"/>
<rect x="932.00" y="924.05" width="4.30" height="3.20" fill="#333"/>
<rect x="932.00" y="902.93" width="4.30" height="3.20" fill="#333"/>
<rect x="932.00" y="881.80" width="4.30" height="3.20" fill="#333"/>
<rect x="932.00" y="860.68" width="4.30" height="3.20" fill="#333"/>
<rect x="932.00" y="839.55" width="4.30" height="3.20" fill="#333"/>
<rect x="985.00" y="1063.50" width="3.20" height="3.80" fill="#333"/>
<rect x="1067.90" y="1063.50" width="3.20" height="3.80" fill="#333"/>
<rect x="1151.80" y="1063.50" width="3.20" height="3.80" fill="#333"/>
<text x="889.00" y="899.94" font-size="34.60" fill="#000">80</text>
<text x="889.10" y="984.24" font-size="34.60" fill="#000">40</text>
<text x="909.71" y="1068.44" font-size="34.60" fill="#000">0</text>
<text x="957.22" y="1042.00" font-size="29.57" fill="#000">0.1%</text>
<text x="1038.83" y="1040.70" font-size="29.34" fill="#000">0.7%</text>
<text x="1127.73" y="977.50" font-size="29.25" fill="#000">31%</text>
<text x="941.25" y="1100.70" font-size="32.30" fill="#000">Static</text>
<text x="1035.43" y="1100.70" font-size="31.87" fill="#000">Inter</text>
<text x="1110.22" y="1100.70" font-size="32.21" fill="#000">Rapid</text>
<text transform="translate(848.20,1059.40) rotate(-90)" font-size="28.68" fill="#000">%  of enhancers</text>
<text transform="translate(876.00,1041.30) rotate(-90)" font-size="28.37" fill="#000">with TE in gap</text>
<text transform="translate(1207.42,586.84) scale(1.0865,1)" font-size="45.64" font-weight="bold" fill="#000" stroke="#000" stroke-width="0.5">e</text>
<text x="1398.99" y="583.50" font-size="37.45" fill="#000">% of enhancer length covered by</text>
<text x="1536.24" y="621.00" font-size="37.82" fill="#000">pTE sequences</text>
<rect x="1339.80" y="641.40" width="260.70" height="94.60" fill="#fff" stroke="#333" stroke-width="1.6"/>
<text x="1379.96" y="679.80" font-size="29.59" fill="#000">%  covered</text>
<text x="1380.47" y="711.70" font-size="29.64" fill="#000">by all pTEs</text>
<rect x="1735.60" y="641.40" width="261.20" height="94.60" fill="#fff" stroke="#333" stroke-width="1.6"/>
<text x="1800.57" y="679.80" font-size="29.49" fill="#000">% covered</text>
<text x="1767.79" y="708.30" font-size="29.42" fill="#000">by gained pTEs</text>
<rect x="1336.40" y="763.80" width="262.80" height="66.40" fill="#fff"/>
<line x1="1336.40" y1="777.75" x2="1599.20" y2="777.75" stroke="#f3f3f3" stroke-width="1"/>
<line x1="1336.40" y1="799.65" x2="1599.20" y2="799.65" stroke="#f3f3f3" stroke-width="1"/>
<line x1="1336.40" y1="821.55" x2="1599.20" y2="821.55" stroke="#f3f3f3" stroke-width="1"/>
<line x1="1336.40" y1="766.80" x2="1599.20" y2="766.80" stroke="#ebebeb" stroke-width="1.3"/>
<line x1="1336.40" y1="788.70" x2="1599.20" y2="788.70" stroke="#ebebeb" stroke-width="1.3"/>
<line x1="1336.40" y1="810.60" x2="1599.20" y2="810.60" stroke="#ebebeb" stroke-width="1.3"/>
<line x1="1336.40" y1="825.00" x2="1599.20" y2="825.00" stroke="#f3f3f3" stroke-width="1"/>
<line x1="1385.50" y1="830.20" x2="1385.50" y2="816.90" stroke="#444" stroke-width="1.1"/>
<line x1="1385.50" y1="765.30" x2="1385.50" y2="816.90" stroke="#333" stroke-width="3.4"/>
<line x1="1467.60" y1="830.20" x2="1467.60" y2="799.00" stroke="#444" stroke-width="1.1"/>
<line x1="1467.60" y1="765.30" x2="1467.60" y2="799.00" stroke="#333" stroke-width="3.4"/>
<line x1="1549.70" y1="830.20" x2="1549.70" y2="790.00" stroke="#444" stroke-width="1.1"/>
<line x1="1549.70" y1="765.30" x2="1549.70" y2="790.00" stroke="#333" stroke-width="3.4"/>
<rect x="1336.40" y="763.80" width="262.80" height="66.40" fill="none" stroke="#333" stroke-width="2"/>
<line x1="1331.90" y1="766.80" x2="1336.40" y2="766.80" stroke="#333" stroke-width="1.1"/>
<line x1="1331.90" y1="788.70" x2="1336.40" y2="788.70" stroke="#333" stroke-width="1.1"/>
<line x1="1331.90" y1="810.60" x2="1336.40" y2="810.60" stroke="#333" stroke-width="1.1"/>
<text x="1269.86" y="779.32" font-size="31.50" fill="#000">100</text>
<text x="1287.37" y="830.83" font-size="32.40" fill="#000">60</text>
<rect x="1336.40" y="840.70" width="262.80" height="220.50" fill="#fff"/>
<line x1="1336.40" y1="1025.65" x2="1599.20" y2="1025.65" stroke="#f3f3f3" stroke-width="1"/>
<line x1="1336.40" y1="975.55" x2="1599.20" y2="975.55" stroke="#f3f3f3" stroke-width="1"/>
<line x1="1336.40" y1="925.45" x2="1599.20" y2="925.45" stroke="#f3f3f3" stroke-width="1"/>
<line x1="1336.40" y1="875.35" x2="1599.20" y2="875.35" stroke="#f3f3f3" stroke-width="1"/>
<line x1="1336.40" y1="1050.70" x2="1599.20" y2="1050.70" stroke="#ebebeb" stroke-width="1.3"/>
<line x1="1336.40" y1="1000.60" x2="1599.20" y2="1000.60" stroke="#ebebeb" stroke-width="1.3"/>
<line x1="1336.40" y1="950.50" x2="1599.20" y2="950.50" stroke="#ebebeb" stroke-width="1.3"/>
<line x1="1336.40" y1="900.40" x2="1599.20" y2="900.40" stroke="#ebebeb" stroke-width="1.3"/>
<line x1="1336.40" y1="850.30" x2="1599.20" y2="850.30" stroke="#ebebeb" stroke-width="1.3"/>
<line x1="1385.50" y1="840.70" x2="1385.50" y2="1061.20" stroke="#ebebeb" stroke-width="1.3"/>
<line x1="1467.60" y1="840.70" x2="1467.60" y2="1061.20" stroke="#ebebeb" stroke-width="1.3"/>
<line x1="1549.70" y1="840.70" x2="1549.70" y2="1061.20" stroke="#ebebeb" stroke-width="1.3"/>
<line x1="1385.50" y1="840.70" x2="1385.50" y2="1051.30" stroke="#444" stroke-width="1.1"/>
<line x1="1467.60" y1="840.70" x2="1467.60" y2="1051.30" stroke="#444" stroke-width="1.1"/>
<line x1="1549.70" y1="840.70" x2="1549.70" y2="1051.30" stroke="#444" stroke-width="1.1"/>
<rect x="1352.60" y="913.10" width="66.10" height="93.80" fill="#231f20" stroke="#333" stroke-width="1.1"/>
<line x1="1352.60" y1="971.70" x2="1418.70" y2="971.70" stroke="#fff" stroke-width="1.6"/>
<rect x="1434.70" y="870.60" width="66.00" height="119.00" fill="#dde31f" stroke="#333" stroke-width="1.1"/>
<line x1="1434.70" y1="940.10" x2="1500.70" y2="940.10" stroke="#333" stroke-width="1.4"/>
<rect x="1516.90" y="858.60" width="65.90" height="134.80" fill="#45f214" stroke="#333" stroke-width="1.1"/>
<line x1="1516.90" y1="936.30" x2="1582.80" y2="936.30" stroke="#333" stroke-width="1.4"/>
<rect x="1336.40" y="840.70" width="262.80" height="220.50" fill="none" stroke="#444" stroke-width="1.3"/>
<line x1="1331.90" y1="1050.70" x2="1336.40" y2="1050.70" stroke="#333" stroke-width="1.1"/>
<line x1="1331.90" y1="1000.60" x2="1336.40" y2="1000.60" stroke="#333" stroke-width="1.1"/>
<line x1="1331.90" y1="950.50" x2="1336.40" y2="950.50" stroke="#333" stroke-width="1.1"/>
<line x1="1331.90" y1="900.40" x2="1336.40" y2="900.40" stroke="#333" stroke-width="1.1"/>
<line x1="1331.90" y1="850.30" x2="1336.40" y2="850.30" stroke="#333" stroke-width="1.1"/>
<text x="1287.37" y="867.68" font-size="32.40" fill="#000">40</text>
<text x="1286.47" y="912.08" font-size="32.40" fill="#000">30</text>
<text x="1286.97" y="959.98" font-size="32.40" fill="#000">20</text>
<text x="1286.67" y="1008.68" font-size="32.40" fill="#000">10</text>
<text x="1304.45" y="1061.78" font-size="32.40" fill="#000">0</text>
<rect x="1383.90" y="1061.20" width="3.20" height="3.50" fill="#333"/>
<rect x="1466.00" y="1061.20" width="3.20" height="3.50" fill="#333"/>
<rect x="1548.10" y="1061.20" width="3.20" height="3.50" fill="#333"/>
<text x="1337.66" y="1100.20" font-size="32.06" fill="#000">Static</text>
<text x="1434.67" y="1100.20" font-size="31.40" fill="#000">Inter</text>
<text x="1512.85" y="1100.20" font-size="31.89" fill="#000">Rapid</text>
<text transform="translate(1261.76,1084.27) rotate(-90)" font-size="27.81" fill="#000">% bp covered per enhancer</text>
<rect x="1737.80" y="768.90" width="258.30" height="65.30" fill="#fff"/>
<line x1="1737.80" y1="771.00" x2="1996.10" y2="771.00" stroke="#ebebeb" stroke-width="1.2"/>
<line x1="1737.80" y1="778.79" x2="1996.10" y2="778.79" stroke="#f3f3f3" stroke-width="1.2"/>
<line x1="1737.80" y1="786.58" x2="1996.10" y2="786.58" stroke="#ebebeb" stroke-width="1.2"/>
<line x1="1737.80" y1="794.36" x2="1996.10" y2="794.36" stroke="#f3f3f3" stroke-width="1.2"/>
<line x1="1737.80" y1="802.15" x2="1996.10" y2="802.15" stroke="#ebebeb" stroke-width="1.2"/>
<line x1="1737.80" y1="809.94" x2="1996.10" y2="809.94" stroke="#f3f3f3" stroke-width="1.2"/>
<line x1="1737.80" y1="817.72" x2="1996.10" y2="817.72" stroke="#ebebeb" stroke-width="1.2"/>
<line x1="1737.80" y1="825.51" x2="1996.10" y2="825.51" stroke="#f3f3f3" stroke-width="1.2"/>
<line x1="1737.80" y1="833.30" x2="1996.10" y2="833.30" stroke="#ebebeb" stroke-width="1.2"/>
<line x1="1786.50" y1="768.90" x2="1786.50" y2="834.20" stroke="#ebebeb" stroke-width="1.2"/>
<line x1="1867.40" y1="768.90" x2="1867.40" y2="834.20" stroke="#ebebeb" stroke-width="1.2"/>
<line x1="1947.60" y1="768.90" x2="1947.60" y2="834.20" stroke="#ebebeb" stroke-width="1.2"/>
<line x1="1867.40" y1="770.00" x2="1867.40" y2="833.00" stroke="#333" stroke-width="3.4"/>
<line x1="1947.60" y1="770.00" x2="1947.60" y2="833.00" stroke="#333" stroke-width="3.0"/>
<rect x="1737.80" y="768.90" width="258.30" height="65.30" fill="none" stroke="#333" stroke-width="2.2"/>
<line x1="1733.30" y1="771.00" x2="1737.80" y2="771.00" stroke="#333" stroke-width="1.1"/>
<line x1="1733.30" y1="833.30" x2="1737.80" y2="833.30" stroke="#333" stroke-width="1.1"/>
<text x="1674.51" y="781.86" font-size="32.20" fill="#000">100</text>
<text x="1686.97" y="831.58" font-size="32.40" fill="#000">20</text>
<rect x="1737.80" y="851.00" width="258.30" height="216.10" fill="#fff"/>
<line x1="1737.80" y1="1037.41" x2="1996.10" y2="1037.41" stroke="#f3f3f3" stroke-width="1"/>
<line x1="1737.80" y1="998.23" x2="1996.10" y2="998.23" stroke="#f3f3f3" stroke-width="1"/>
<line x1="1737.80" y1="959.05" x2="1996.10" y2="959.05" stroke="#f3f3f3" stroke-width="1"/>
<line x1="1737.80" y1="919.87" x2="1996.10" y2="919.87" stroke="#f3f3f3" stroke-width="1"/>
<line x1="1737.80" y1="880.69" x2="1996.10" y2="880.69" stroke="#f3f3f3" stroke-width="1"/>
<line x1="1737.80" y1="1057.00" x2="1996.10" y2="1057.00" stroke="#ebebeb" stroke-width="1.3"/>
<line x1="1737.80" y1="1017.82" x2="1996.10" y2="1017.82" stroke="#ebebeb" stroke-width="1.3"/>
<line x1="1737.80" y1="978.64" x2="1996.10" y2="978.64" stroke="#ebebeb" stroke-width="1.3"/>
<line x1="1737.80" y1="939.46" x2="1996.10" y2="939.46" stroke="#ebebeb" stroke-width="1.3"/>
<line x1="1737.80" y1="900.28" x2="1996.10" y2="900.28" stroke="#ebebeb" stroke-width="1.3"/>
<line x1="1737.80" y1="861.10" x2="1996.10" y2="861.10" stroke="#ebebeb" stroke-width="1.3"/>
<line x1="1786.50" y1="851.00" x2="1786.50" y2="1067.10" stroke="#ebebeb" stroke-width="1.3"/>
<line x1="1867.40" y1="851.00" x2="1867.40" y2="1067.10" stroke="#ebebeb" stroke-width="1.3"/>
<line x1="1947.60" y1="851.00" x2="1947.60" y2="1067.10" stroke="#ebebeb" stroke-width="1.3"/>
<line x1="1867.40" y1="851.00" x2="1867.40" y2="1057.00" stroke="#333" stroke-width="1.2"/>
<line x1="1947.60" y1="851.00" x2="1947.60" y2="1057.00" stroke="#333" stroke-width="1.2"/>
<line x1="1786.50" y1="1009.50" x2="1786.50" y2="1043.00" stroke="#333" stroke-width="1.3"/>
<ellipse cx="1786.5" cy="1020.2" rx="2.1" ry="8.6" fill="#2a2a2a"/>
<circle cx="1786.5" cy="1007.6" r="1.7" fill="#2a2a2a"/>
<rect x="1754.30" y="1043.30" width="64.90" height="11.60" fill="#000" stroke="#000" stroke-width="1"/>
<line x1="1754.30" y1="1049.60" x2="1819.20" y2="1049.60" stroke="#fff" stroke-width="1.5"/>
<rect x="1835.40" y="917.00" width="63.80" height="122.70" fill="#e5f214" stroke="#333" stroke-width="1.1"/>
<line x1="1835.40" y1="996.00" x2="1899.20" y2="996.00" stroke="#333" stroke-width="1.4"/>
<rect x="1915.80" y="942.20" width="63.90" height="104.30" fill="#45f214" stroke="#333" stroke-width="1.1"/>
<line x1="1915.80" y1="1008.10" x2="1979.70" y2="1008.10" stroke="#333" stroke-width="1.4"/>
<rect x="1737.80" y="851.00" width="258.30" height="216.10" fill="none" stroke="#333" stroke-width="2.2"/>
<line x1="1733.30" y1="1057.00" x2="1737.80" y2="1057.00" stroke="#333" stroke-width="1.1"/>
<line x1="1733.30" y1="1017.82" x2="1737.80" y2="1017.82" stroke="#333" stroke-width="1.1"/>
<line x1="1733.30" y1="978.64" x2="1737.80" y2="978.64" stroke="#333" stroke-width="1.1"/>
<line x1="1733.30" y1="939.46" x2="1737.80" y2="939.46" stroke="#333" stroke-width="1.1"/>
<line x1="1733.30" y1="900.28" x2="1737.80" y2="900.28" stroke="#333" stroke-width="1.1"/>
<line x1="1733.30" y1="861.10" x2="1737.80" y2="861.10" stroke="#333" stroke-width="1.1"/>
<text x="1685.18" y="874.31" font-size="32.20" fill="#000">10</text>
<text x="1698.61" y="909.28" font-size="32.40" fill="#000">8</text>
<text x="1698.61" y="949.18" font-size="32.40" fill="#000">6</text>
<text x="1698.29" y="990.58" font-size="32.40" fill="#000">4</text>
<text x="1698.94" y="1027.14" font-size="32.40" fill="#000">2</text>
<text x="1698.45" y="1064.08" font-size="32.40" fill="#000">0</text>
<rect x="1784.90" y="1067.10" width="3.20" height="3.50" fill="#333"/>
<rect x="1865.80" y="1067.10" width="3.20" height="3.50" fill="#333"/>
<rect x="1946.00" y="1067.10" width="3.20" height="3.50" fill="#333"/>
<text x="1735.99" y="1100.20" font-size="31.40" fill="#000">Static</text>
<text x="1830.45" y="1100.20" font-size="31.66" fill="#000">Inter</text>
<text x="1903.33" y="1100.20" font-size="32.09" fill="#000">Rapid</text>
<text transform="translate(1670.23,1085.38) rotate(-90)" font-size="27.90" fill="#000">% bp covered per enhancer</text>
<text transform="translate(24.20,1223.50) scale(0.9591,1)" font-size="41.38" font-weight="bold" fill="#000" stroke="#000" stroke-width="0.5">f</text>
<rect x="179.70" y="1190.30" width="1305.00" height="35.10" fill="#e3e3e3" stroke="#e8642a" stroke-width="2"/>
<text x="641.43" y="1216.60" font-size="28.76" font-weight="bold" fill="#000">Enrichment of TE subfamily</text>
<text x="357.41" y="1268.60" font-size="31.50" font-weight="bold" fill="#000">Ancient TEs</text>
<text x="977.93" y="1268.60" font-size="31.81" font-weight="bold" fill="#f05a14">Primate TEs</text>
<text x="2.8" y="1335" font-size="23.5" letter-spacing="2.05" fill="#000">-log10</text>
<text x="3.0" y="1359" font-size="23.5" letter-spacing="1.9" fill="#000">adj. <tspan font-style="italic">P</tspan>-value</text>
<defs><linearGradient id="gCb" x1="0" x2="0" y1="0" y2="1"><stop offset="0" stop-color="#c8844a"/><stop offset="0.45" stop-color="#dc9030"/><stop offset="1" stop-color="#fca30a"/></linearGradient></defs>
<rect x="12.20" y="1378.30" width="22.20" height="144.10" fill="url(#gCb)"/>
<line x1="12.20" y1="1404.00" x2="16.50" y2="1404.00" stroke="#fff" stroke-width="1.2"/>
<line x1="30.10" y1="1404.00" x2="34.40" y2="1404.00" stroke="#fff" stroke-width="1.2"/>
<line x1="12.20" y1="1433.80" x2="16.50" y2="1433.80" stroke="#fff" stroke-width="1.2"/>
<line x1="30.10" y1="1433.80" x2="34.40" y2="1433.80" stroke="#fff" stroke-width="1.2"/>
<line x1="12.20" y1="1463.60" x2="16.50" y2="1463.60" stroke="#fff" stroke-width="1.2"/>
<line x1="30.10" y1="1463.60" x2="34.40" y2="1463.60" stroke="#fff" stroke-width="1.2"/>
<line x1="12.20" y1="1494.20" x2="16.50" y2="1494.20" stroke="#fff" stroke-width="1.2"/>
<line x1="30.10" y1="1494.20" x2="34.40" y2="1494.20" stroke="#fff" stroke-width="1.2"/>
<text x="38.58" y="1414.60" font-size="28.42" fill="#000">200</text>
<text x="38.89" y="1506.40" font-size="27.83" fill="#000">50</text>
<rect x="94.40" y="1446.00" width="70.00" height="22.20" fill="#000"/>
<text x="101.68" y="1464.80" font-size="22.00" fill="#fff">Static</text>
<rect x="94.40" y="1474.70" width="69.20" height="21.30" fill="#dde31f"/>
<text x="106.17" y="1492.80" font-size="22.00" fill="#000">Inter</text>
<rect x="93.70" y="1502.60" width="69.90" height="21.80" fill="#3ee82a"/>
<text x="99.72" y="1520.50" font-size="22.00" fill="#000">Rapid</text>
<rect x="172.80" y="1450.20" width="1306.90" height="81.80" fill="#fff"/>
<line x1="172.80" y1="1465.30" x2="1479.70" y2="1465.30" stroke="#ebebeb" stroke-width="1"/>
<line x1="172.80" y1="1490.70" x2="1479.70" y2="1490.70" stroke="#ebebeb" stroke-width="1"/>
<line x1="172.80" y1="1516.35" x2="1479.70" y2="1516.35" stroke="#ebebeb" stroke-width="1"/>
<line x1="191.10" y1="1450.20" x2="191.10" y2="1532.00" stroke="#ebebeb" stroke-width="1"/>
<line x1="222.08" y1="1450.20" x2="222.08" y2="1532.00" stroke="#ebebeb" stroke-width="1"/>
<line x1="253.06" y1="1450.20" x2="253.06" y2="1532.00" stroke="#ebebeb" stroke-width="1"/>
<line x1="284.04" y1="1450.20" x2="284.04" y2="1532.00" stroke="#ebebeb" stroke-width="1"/>
<line x1="315.02" y1="1450.20" x2="315.02" y2="1532.00" stroke="#ebebeb" stroke-width="1"/>
<line x1="346.00" y1="1450.20" x2="346.00" y2="1532.00" stroke="#ebebeb" stroke-width="1"/>
<line x1="376.98" y1="1450.20" x2="376.98" y2="1532.00" stroke="#ebebeb" stroke-width="1"/>
<line x1="407.96" y1="1450.20" x2="407.96" y2="1532.00" stroke="#ebebeb" stroke-width="1"/>
<line x1="438.94" y1="1450.20" x2="438.94" y2="1532.00" stroke="#ebebeb" stroke-width="1"/>
<line x1="469.92" y1="1450.20" x2="469.92" y2="1532.00" stroke="#ebebeb" stroke-width="1"/>
<line x1="500.90" y1="1450.20" x2="500.90" y2="1532.00" stroke="#ebebeb" stroke-width="1"/>
<line x1="531.88" y1="1450.20" x2="531.88" y2="1532.00" stroke="#ebebeb" stroke-width="1"/>
<line x1="562.86" y1="1450.20" x2="562.86" y2="1532.00" stroke="#ebebeb" stroke-width="1"/>
<line x1="593.84" y1="1450.20" x2="593.84" y2="1532.00" stroke="#ebebeb" stroke-width="1"/>
<line x1="624.82" y1="1450.20" x2="624.82" y2="1532.00" stroke="#ebebeb" stroke-width="1"/>
<line x1="655.80" y1="1450.20" x2="655.80" y2="1532.00" stroke="#ebebeb" stroke-width="1"/>
<line x1="686.78" y1="1450.20" x2="686.78" y2="1532.00" stroke="#ebebeb" stroke-width="1"/>
<line x1="717.76" y1="1450.20" x2="717.76" y2="1532.00" stroke="#ebebeb" stroke-width="1"/>
<line x1="748.74" y1="1450.20" x2="748.74" y2="1532.00" stroke="#ebebeb" stroke-width="1"/>
<line x1="779.72" y1="1450.20" x2="779.72" y2="1532.00" stroke="#ebebeb" stroke-width="1"/>
<line x1="810.70" y1="1450.20" x2="810.70" y2="1532.00" stroke="#ebebeb" stroke-width="1"/>
<line x1="841.68" y1="1450.20" x2="841.68" y2="1532.00" stroke="#ebebeb" stroke-width="1"/>
<line x1="872.66" y1="1450.20" x2="872.66" y2="1532.00" stroke="#ebebeb" stroke-width="1"/>
<line x1="903.64" y1="1450.20" x2="903.64" y2="1532.00" stroke="#ebebeb" stroke-width="1"/>
<line x1="934.62" y1="1450.20" x2="934.62" y2="1532.00" stroke="#ebebeb" stroke-width="1"/>
<line x1="965.60" y1="1450.20" x2="965.60" y2="1532.00" stroke="#ebebeb" stroke-width="1"/>
<line x1="996.58" y1="1450.20" x2="996.58" y2="1532.00" stroke="#ebebeb" stroke-width="1"/>
<line x1="1027.56" y1="1450.20" x2="1027.56" y2="1532.00" stroke="#ebebeb" stroke-width="1"/>
<line x1="1058.54" y1="1450.20" x2="1058.54" y2="1532.00" stroke="#ebebeb" stroke-width="1"/>
<line x1="1089.52" y1="1450.20" x2="1089.52" y2="1532.00" stroke="#ebebeb" stroke-width="1"/>
<line x1="1120.50" y1="1450.20" x2="1120.50" y2="1532.00" stroke="#ebebeb" stroke-width="1"/>
<line x1="1151.48" y1="1450.20" x2="1151.48" y2="1532.00" stroke="#ebebeb" stroke-width="1"/>
<line x1="1182.46" y1="1450.20" x2="1182.46" y2="1532.00" stroke="#ebebeb" stroke-width="1"/>
<line x1="1213.44" y1="1450.20" x2="1213.44" y2="1532.00" stroke="#ebebeb" stroke-width="1"/>
<line x1="1244.42" y1="1450.20" x2="1244.42" y2="1532.00" stroke="#ebebeb" stroke-width="1"/>
<line x1="1275.40" y1="1450.20" x2="1275.40" y2="1532.00" stroke="#ebebeb" stroke-width="1"/>
<line x1="1306.38" y1="1450.20" x2="1306.38" y2="1532.00" stroke="#ebebeb" stroke-width="1"/>
<line x1="1337.36" y1="1450.20" x2="1337.36" y2="1532.00" stroke="#ebebeb" stroke-width="1"/>
<line x1="1368.34" y1="1450.20" x2="1368.34" y2="1532.00" stroke="#ebebeb" stroke-width="1"/>
<line x1="1399.32" y1="1450.20" x2="1399.32" y2="1532.00" stroke="#ebebeb" stroke-width="1"/>
<line x1="1430.30" y1="1450.20" x2="1430.30" y2="1532.00" stroke="#ebebeb" stroke-width="1"/>
<line x1="1461.28" y1="1450.20" x2="1461.28" y2="1532.00" stroke="#ebebeb" stroke-width="1"/>
<rect x="175.80" y="1452.90" width="30.60" height="24.80" fill="#fca400" stroke="#3a3a3a" stroke-width="0.8"/>
<rect x="206.78" y="1452.90" width="30.60" height="24.80" fill="#fca400" stroke="#3a3a3a" stroke-width="0.8"/>
<rect x="237.76" y="1452.90" width="30.60" height="24.80" fill="#fca400" stroke="#3a3a3a" stroke-width="0.8"/>
<rect x="268.74" y="1452.90" width="30.60" height="24.80" fill="#f6a216" stroke="#3a3a3a" stroke-width="0.8"/>
<rect x="299.72" y="1452.90" width="30.60" height="24.80" fill="#fca400" stroke="#3a3a3a" stroke-width="0.8"/>
<rect x="330.70" y="1452.90" width="30.60" height="24.80" fill="#fca400" stroke="#3a3a3a" stroke-width="0.8"/>
<rect x="361.68" y="1452.90" width="30.60" height="24.80" fill="#fca400" stroke="#3a3a3a" stroke-width="0.8"/>
<rect x="392.66" y="1452.90" width="30.60" height="24.80" fill="#fca400" stroke="#3a3a3a" stroke-width="0.8"/>
<rect x="423.64" y="1452.90" width="30.60" height="24.80" fill="#fca400" stroke="#3a3a3a" stroke-width="0.8"/>
<rect x="454.62" y="1452.90" width="30.60" height="24.80" fill="#fca400" stroke="#3a3a3a" stroke-width="0.8"/>
<rect x="485.60" y="1452.90" width="30.60" height="24.80" fill="#fca400" stroke="#3a3a3a" stroke-width="0.8"/>
<rect x="516.58" y="1452.90" width="30.60" height="24.80" fill="#dc923a" stroke="#3a3a3a" stroke-width="0.8"/>
<rect x="547.56" y="1452.90" width="30.60" height="24.80" fill="#cc8446" stroke="#3a3a3a" stroke-width="0.8"/>
<rect x="578.54" y="1452.90" width="30.60" height="24.80" fill="#f0a024" stroke="#3a3a3a" stroke-width="0.8"/>
<rect x="609.52" y="1452.90" width="30.60" height="24.80" fill="#d38c40" stroke="#3a3a3a" stroke-width="0.8"/>
<rect x="609.52" y="1477.70" width="30.60" height="26.00" fill="#fca400" stroke="#3a3a3a" stroke-width="0.8"/>
<rect x="640.50" y="1477.70" width="30.60" height="26.00" fill="#fca400" stroke="#3a3a3a" stroke-width="0.8"/>
<rect x="671.48" y="1477.70" width="30.60" height="26.00" fill="#fca400" stroke="#3a3a3a" stroke-width="0.8"/>
<rect x="702.46" y="1477.70" width="30.60" height="26.00" fill="#fca400" stroke="#3a3a3a" stroke-width="0.8"/>
<rect x="733.44" y="1477.70" width="30.60" height="26.00" fill="#fca400" stroke="#3a3a3a" stroke-width="0.8"/>
<rect x="764.42" y="1477.70" width="30.60" height="26.00" fill="#f2a42c" stroke="#3a3a3a" stroke-width="0.8"/>
<rect x="795.40" y="1477.70" width="30.60" height="26.00" fill="#fca400" stroke="#3a3a3a" stroke-width="0.8"/>
<rect x="826.38" y="1477.70" width="30.60" height="26.00" fill="#fca400" stroke="#3a3a3a" stroke-width="0.8"/>
<rect x="857.36" y="1477.70" width="30.60" height="26.00" fill="#fca400" stroke="#3a3a3a" stroke-width="0.8"/>
<rect x="888.34" y="1477.70" width="30.60" height="26.00" fill="#fca400" stroke="#3a3a3a" stroke-width="0.8"/>
<rect x="919.32" y="1477.70" width="30.60" height="26.00" fill="#fca400" stroke="#3a3a3a" stroke-width="0.8"/>
<rect x="950.30" y="1477.70" width="30.60" height="26.00" fill="#fca400" stroke="#3a3a3a" stroke-width="0.8"/>
<rect x="981.28" y="1477.70" width="30.60" height="26.00" fill="#fca400" stroke="#3a3a3a" stroke-width="0.8"/>
<rect x="1012.26" y="1477.70" width="30.60" height="26.00" fill="#fca400" stroke="#3a3a3a" stroke-width="0.8"/>
<rect x="1043.24" y="1477.70" width="30.60" height="26.00" fill="#fca400" stroke="#3a3a3a" stroke-width="0.8"/>
<rect x="1074.22" y="1477.70" width="30.60" height="26.00" fill="#fca400" stroke="#3a3a3a" stroke-width="0.8"/>
<rect x="1105.20" y="1477.70" width="30.60" height="26.00" fill="#fca400" stroke="#3a3a3a" stroke-width="0.8"/>
<rect x="1136.18" y="1477.70" width="30.60" height="26.00" fill="#fca400" stroke="#3a3a3a" stroke-width="0.8"/>
<rect x="1167.16" y="1477.70" width="30.60" height="26.00" fill="#fca400" stroke="#3a3a3a" stroke-width="0.8"/>
<rect x="1198.14" y="1477.70" width="30.60" height="26.00" fill="#eea232" stroke="#3a3a3a" stroke-width="0.8"/>
<rect x="1229.12" y="1477.70" width="30.60" height="26.00" fill="#e89e3c" stroke="#3a3a3a" stroke-width="0.8"/>
<rect x="1260.10" y="1477.70" width="30.60" height="26.00" fill="#eea232" stroke="#3a3a3a" stroke-width="0.8"/>
<rect x="1291.08" y="1477.70" width="30.60" height="26.00" fill="#eea232" stroke="#3a3a3a" stroke-width="0.8"/>
<rect x="1322.06" y="1477.70" width="30.60" height="26.00" fill="#eea232" stroke="#3a3a3a" stroke-width="0.8"/>
<rect x="1353.04" y="1477.70" width="30.60" height="26.00" fill="#eea232" stroke="#3a3a3a" stroke-width="0.8"/>
<rect x="764.42" y="1503.70" width="30.60" height="25.30" fill="#fca400" stroke="#3a3a3a" stroke-width="0.8"/>
<rect x="1198.14" y="1503.70" width="30.60" height="25.30" fill="#fca400" stroke="#3a3a3a" stroke-width="0.8"/>
<rect x="1229.12" y="1503.70" width="30.60" height="25.30" fill="#fca400" stroke="#3a3a3a" stroke-width="0.8"/>
<rect x="1260.10" y="1503.70" width="30.60" height="25.30" fill="#fca400" stroke="#3a3a3a" stroke-width="0.8"/>
<rect x="1291.08" y="1503.70" width="30.60" height="25.30" fill="#fca400" stroke="#3a3a3a" stroke-width="0.8"/>
<rect x="1322.06" y="1503.70" width="30.60" height="25.30" fill="#fca400" stroke="#3a3a3a" stroke-width="0.8"/>
<rect x="1353.04" y="1503.70" width="30.60" height="25.30" fill="#f3a526" stroke="#3a3a3a" stroke-width="0.8"/>
<rect x="1384.02" y="1503.70" width="30.60" height="25.30" fill="#fca400" stroke="#3a3a3a" stroke-width="0.8"/>
<rect x="1415.00" y="1503.70" width="30.60" height="25.30" fill="#fca400" stroke="#3a3a3a" stroke-width="0.8"/>
<rect x="1445.98" y="1503.70" width="30.60" height="25.30" fill="#fca400" stroke="#3a3a3a" stroke-width="0.8"/>
<rect x="172.80" y="1450.20" width="1306.90" height="81.80" fill="none" stroke="#777" stroke-width="1.3"/>
<line x1="168.80" y1="1465.30" x2="172.80" y2="1465.30" stroke="#555" stroke-width="1"/>
<line x1="168.80" y1="1490.70" x2="172.80" y2="1490.70" stroke="#555" stroke-width="1"/>
<line x1="168.80" y1="1516.35" x2="172.80" y2="1516.35" stroke="#555" stroke-width="1"/>
<line x1="191.10" y1="1446.20" x2="191.10" y2="1450.20" stroke="#555" stroke-width="1"/>
<line x1="222.08" y1="1446.20" x2="222.08" y2="1450.20" stroke="#555" stroke-width="1"/>
<line x1="253.06" y1="1446.20" x2="253.06" y2="1450.20" stroke="#555" stroke-width="1"/>
<line x1="284.04" y1="1446.20" x2="284.04" y2="1450.20" stroke="#555" stroke-width="1"/>
<line x1="315.02" y1="1446.20" x2="315.02" y2="1450.20" stroke="#555" stroke-width="1"/>
<line x1="346.00" y1="1446.20" x2="346.00" y2="1450.20" stroke="#555" stroke-width="1"/>
<line x1="376.98" y1="1446.20" x2="376.98" y2="1450.20" stroke="#555" stroke-width="1"/>
<line x1="407.96" y1="1446.20" x2="407.96" y2="1450.20" stroke="#555" stroke-width="1"/>
<line x1="438.94" y1="1446.20" x2="438.94" y2="1450.20" stroke="#555" stroke-width="1"/>
<line x1="469.92" y1="1446.20" x2="469.92" y2="1450.20" stroke="#555" stroke-width="1"/>
<line x1="500.90" y1="1446.20" x2="500.90" y2="1450.20" stroke="#555" stroke-width="1"/>
<line x1="531.88" y1="1446.20" x2="531.88" y2="1450.20" stroke="#555" stroke-width="1"/>
<line x1="562.86" y1="1446.20" x2="562.86" y2="1450.20" stroke="#555" stroke-width="1"/>
<line x1="593.84" y1="1446.20" x2="593.84" y2="1450.20" stroke="#555" stroke-width="1"/>
<line x1="624.82" y1="1446.20" x2="624.82" y2="1450.20" stroke="#555" stroke-width="1"/>
<line x1="655.80" y1="1446.20" x2="655.80" y2="1450.20" stroke="#555" stroke-width="1"/>
<line x1="686.78" y1="1446.20" x2="686.78" y2="1450.20" stroke="#555" stroke-width="1"/>
<line x1="717.76" y1="1446.20" x2="717.76" y2="1450.20" stroke="#555" stroke-width="1"/>
<line x1="748.74" y1="1446.20" x2="748.74" y2="1450.20" stroke="#555" stroke-width="1"/>
<line x1="779.72" y1="1446.20" x2="779.72" y2="1450.20" stroke="#555" stroke-width="1"/>
<line x1="810.70" y1="1446.20" x2="810.70" y2="1450.20" stroke="#555" stroke-width="1"/>
<line x1="841.68" y1="1446.20" x2="841.68" y2="1450.20" stroke="#555" stroke-width="1"/>
<line x1="872.66" y1="1446.20" x2="872.66" y2="1450.20" stroke="#555" stroke-width="1"/>
<line x1="903.64" y1="1446.20" x2="903.64" y2="1450.20" stroke="#555" stroke-width="1"/>
<line x1="934.62" y1="1446.20" x2="934.62" y2="1450.20" stroke="#555" stroke-width="1"/>
<line x1="965.60" y1="1446.20" x2="965.60" y2="1450.20" stroke="#555" stroke-width="1"/>
<line x1="996.58" y1="1446.20" x2="996.58" y2="1450.20" stroke="#555" stroke-width="1"/>
<line x1="1027.56" y1="1446.20" x2="1027.56" y2="1450.20" stroke="#555" stroke-width="1"/>
<line x1="1058.54" y1="1446.20" x2="1058.54" y2="1450.20" stroke="#555" stroke-width="1"/>
<line x1="1089.52" y1="1446.20" x2="1089.52" y2="1450.20" stroke="#555" stroke-width="1"/>
<line x1="1120.50" y1="1446.20" x2="1120.50" y2="1450.20" stroke="#555" stroke-width="1"/>
<line x1="1151.48" y1="1446.20" x2="1151.48" y2="1450.20" stroke="#555" stroke-width="1"/>
<line x1="1182.46" y1="1446.20" x2="1182.46" y2="1450.20" stroke="#555" stroke-width="1"/>
<line x1="1213.44" y1="1446.20" x2="1213.44" y2="1450.20" stroke="#555" stroke-width="1"/>
<line x1="1244.42" y1="1446.20" x2="1244.42" y2="1450.20" stroke="#555" stroke-width="1"/>
<line x1="1275.40" y1="1446.20" x2="1275.40" y2="1450.20" stroke="#555" stroke-width="1"/>
<line x1="1306.38" y1="1446.20" x2="1306.38" y2="1450.20" stroke="#555" stroke-width="1"/>
<line x1="1337.36" y1="1446.20" x2="1337.36" y2="1450.20" stroke="#555" stroke-width="1"/>
<line x1="1368.34" y1="1446.20" x2="1368.34" y2="1450.20" stroke="#555" stroke-width="1"/>
<line x1="1399.32" y1="1446.20" x2="1399.32" y2="1450.20" stroke="#555" stroke-width="1"/>
<line x1="1430.30" y1="1446.20" x2="1430.30" y2="1450.20" stroke="#555" stroke-width="1"/>
<line x1="1461.28" y1="1446.20" x2="1461.28" y2="1450.20" stroke="#555" stroke-width="1"/>
<text transform="translate(202.25,1439.31) rotate(-90) scale(1,1.07)" font-size="24.7" font-weight="bold" fill="#000">MamSINE1</text>
<text transform="translate(233.15,1439.31) rotate(-90) scale(1,1.07)" font-size="24.7" font-weight="bold" fill="#000">MamTip1</text>
<text transform="translate(264.05,1438.69) rotate(-90) scale(1,1.07)" font-size="24.7" font-weight="bold" fill="#000">Charlie30a</text>
<text transform="translate(294.95,1439.31) rotate(-90) scale(1,1.07)" font-size="24.7" font-weight="bold" fill="#000">MER5B</text>
<text transform="translate(325.85,1439.31) rotate(-90) scale(1,1.07)" font-size="24.7" font-weight="bold" fill="#000">MER5A1</text>
<text transform="translate(356.75,1439.31) rotate(-90) scale(1,1.07)" font-size="24.7" font-weight="bold" fill="#000">MER5A</text>
<text transform="translate(387.65,1439.31) rotate(-90) scale(1,1.07)" font-size="24.7" font-weight="bold" fill="#000">MER57E1</text>
<text transform="translate(418.55,1439.31) rotate(-90) scale(1,1.07)" font-size="24.7" font-weight="bold" fill="#000">LTR77</text>
<text transform="translate(449.45,1439.31) rotate(-90) scale(1,1.07)" font-size="24.7" font-weight="bold" fill="#000">L3b</text>
<text transform="translate(480.35,1438.32) rotate(-90) scale(1,1.07)" font-size="24.7" font-weight="bold" fill="#000">AmnSINE2</text>
<text transform="translate(511.25,1438.32) rotate(-90) scale(1,1.07)" font-size="24.7" font-weight="bold" fill="#000">AmnSINE1</text>
<text transform="translate(542.15,1439.31) rotate(-90) scale(1,1.07)" font-size="24.7" font-weight="bold" fill="#000">MIRc</text>
<text transform="translate(573.05,1439.31) rotate(-90) scale(1,1.07)" font-size="24.7" font-weight="bold" fill="#000">MIRb</text>
<text transform="translate(603.95,1439.31) rotate(-90) scale(1,1.07)" font-size="24.7" font-weight="bold" fill="#000">MIR1_Amn</text>
<text transform="translate(634.85,1439.31) rotate(-90) scale(1,1.07)" font-size="24.7" font-weight="bold" fill="#000">MIR3</text>
<text transform="translate(665.75,1439.31) rotate(-90) scale(1,1.07)" font-size="24.7" font-weight="bold" fill="#000">L1MB3</text>
<text transform="translate(696.65,1439.31) rotate(-90) scale(1,1.07)" font-size="24.7" font-weight="bold" fill="#ff4500">LTR2</text>
<text transform="translate(727.55,1439.31) rotate(-90) scale(1,1.07)" font-size="24.7" font-weight="bold" fill="#ff4500">LTR26D</text>
<text transform="translate(758.45,1439.31) rotate(-90) scale(1,1.07)" font-size="24.7" font-weight="bold" fill="#ff4500">LTR13A</text>
<text transform="translate(789.35,1439.31) rotate(-90) scale(1,1.07)" font-size="24.7" font-weight="bold" fill="#ff4500">LTR2B</text>
<text transform="translate(820.25,1439.31) rotate(-90) scale(1,1.07)" font-size="24.7" font-weight="bold" fill="#ff4500">HERV3−int</text>
<text transform="translate(851.15,1439.31) rotate(-90) scale(1,1.07)" font-size="24.7" font-weight="bold" fill="#ff4500">HERV15−int</text>
<text transform="translate(882.05,1439.31) rotate(-90) scale(1,1.07)" font-size="24.7" font-weight="bold" fill="#ff4500">HERVE_a−int</text>
<text transform="translate(912.95,1439.31) rotate(-90) scale(1,1.07)" font-size="24.7" font-weight="bold" fill="#ff4500">FLAM_A</text>
<text transform="translate(943.85,1439.31) rotate(-90) scale(1,1.07)" font-size="24.7" font-weight="bold" fill="#ff4500">FLAM_C</text>
<text transform="translate(974.75,1439.31) rotate(-90) scale(1,1.07)" font-size="24.7" font-weight="bold" fill="#ff4500">FRAM</text>
<text transform="translate(1005.65,1438.32) rotate(-90) scale(1,1.07)" font-size="24.7" font-weight="bold" fill="#ff4500">AluSz6</text>
<text transform="translate(1036.55,1438.32) rotate(-90) scale(1,1.07)" font-size="24.7" font-weight="bold" fill="#ff4500">AluSq2</text>
<text transform="translate(1067.45,1438.32) rotate(-90) scale(1,1.07)" font-size="24.7" font-weight="bold" fill="#ff4500">AluSq</text>
<text transform="translate(1098.35,1438.32) rotate(-90) scale(1,1.07)" font-size="24.7" font-weight="bold" fill="#ff4500">AluSg</text>
<text transform="translate(1129.25,1438.32) rotate(-90) scale(1,1.07)" font-size="24.7" font-weight="bold" fill="#ff4500">AluSp</text>
<text transform="translate(1160.15,1438.32) rotate(-90) scale(1,1.07)" font-size="24.7" font-weight="bold" fill="#ff4500">AluSx3</text>
<text transform="translate(1191.05,1438.32) rotate(-90) scale(1,1.07)" font-size="24.7" font-weight="bold" fill="#ff4500">AluYh9</text>
<text transform="translate(1221.95,1438.32) rotate(-90) scale(1,1.07)" font-size="24.7" font-weight="bold" fill="#ff4500">AluJo</text>
<text transform="translate(1252.85,1438.32) rotate(-90) scale(1,1.07)" font-size="24.7" font-weight="bold" fill="#ff4500">AluJb</text>
<text transform="translate(1283.75,1438.32) rotate(-90) scale(1,1.07)" font-size="24.7" font-weight="bold" fill="#ff4500">AluJr</text>
<text transform="translate(1314.65,1438.32) rotate(-90) scale(1,1.07)" font-size="24.7" font-weight="bold" fill="#ff4500">AluSz</text>
<text transform="translate(1345.55,1438.32) rotate(-90) scale(1,1.07)" font-size="24.7" font-weight="bold" fill="#ff4500">AluSx1</text>
<text transform="translate(1376.45,1438.32) rotate(-90) scale(1,1.07)" font-size="24.7" font-weight="bold" fill="#ff4500">AluSx</text>
<text transform="translate(1407.35,1438.32) rotate(-90) scale(1,1.07)" font-size="24.7" font-weight="bold" fill="#ff4500">AluYh7</text>
<text transform="translate(1438.25,1439.31) rotate(-90) scale(1,1.07)" font-size="24.7" font-weight="bold" fill="#ff4500">LTR10A</text>
<text transform="translate(1469.15,1439.31) rotate(-90) scale(1,1.07)" font-size="24.7" font-weight="bold" fill="#000">LTR73</text>
<rect x="170.10" y="1562.20" width="1307.70" height="35.10" fill="#e3e3e3" stroke="#e8642a" stroke-width="2"/>
<text x="410.28" y="1588.50" font-size="28.67" font-weight="bold" fill="#231f20">% of TE instances gained since the human-chimpanzee split</text>
<rect x="172.80" y="1599.30" width="1306.90" height="121.00" fill="#fff"/>
<line x1="172.80" y1="1704.38" x2="1479.70" y2="1704.38" stroke="#f3f3f3" stroke-width="1"/>
<line x1="172.80" y1="1682.33" x2="1479.70" y2="1682.33" stroke="#f3f3f3" stroke-width="1"/>
<line x1="172.80" y1="1660.28" x2="1479.70" y2="1660.28" stroke="#f3f3f3" stroke-width="1"/>
<line x1="172.80" y1="1638.23" x2="1479.70" y2="1638.23" stroke="#f3f3f3" stroke-width="1"/>
<line x1="172.80" y1="1616.18" x2="1479.70" y2="1616.18" stroke="#f3f3f3" stroke-width="1"/>
<line x1="172.80" y1="1715.40" x2="1479.70" y2="1715.40" stroke="#ebebeb" stroke-width="1.1"/>
<line x1="172.80" y1="1693.35" x2="1479.70" y2="1693.35" stroke="#ebebeb" stroke-width="1.1"/>
<line x1="172.80" y1="1671.30" x2="1479.70" y2="1671.30" stroke="#ebebeb" stroke-width="1.1"/>
<line x1="172.80" y1="1649.25" x2="1479.70" y2="1649.25" stroke="#ebebeb" stroke-width="1.1"/>
<line x1="172.80" y1="1627.20" x2="1479.70" y2="1627.20" stroke="#ebebeb" stroke-width="1.1"/>
<line x1="172.80" y1="1605.15" x2="1479.70" y2="1605.15" stroke="#ebebeb" stroke-width="1.1"/>
<line x1="191.10" y1="1599.30" x2="191.10" y2="1720.30" stroke="#ebebeb" stroke-width="1"/>
<line x1="222.08" y1="1599.30" x2="222.08" y2="1720.30" stroke="#ebebeb" stroke-width="1"/>
<line x1="253.06" y1="1599.30" x2="253.06" y2="1720.30" stroke="#ebebeb" stroke-width="1"/>
<line x1="284.04" y1="1599.30" x2="284.04" y2="1720.30" stroke="#ebebeb" stroke-width="1"/>
<line x1="315.02" y1="1599.30" x2="315.02" y2="1720.30" stroke="#ebebeb" stroke-width="1"/>
<line x1="346.00" y1="1599.30" x2="346.00" y2="1720.30" stroke="#ebebeb" stroke-width="1"/>
<line x1="376.98" y1="1599.30" x2="376.98" y2="1720.30" stroke="#ebebeb" stroke-width="1"/>
<line x1="407.96" y1="1599.30" x2="407.96" y2="1720.30" stroke="#ebebeb" stroke-width="1"/>
<line x1="438.94" y1="1599.30" x2="438.94" y2="1720.30" stroke="#ebebeb" stroke-width="1"/>
<line x1="469.92" y1="1599.30" x2="469.92" y2="1720.30" stroke="#ebebeb" stroke-width="1"/>
<line x1="500.90" y1="1599.30" x2="500.90" y2="1720.30" stroke="#ebebeb" stroke-width="1"/>
<line x1="531.88" y1="1599.30" x2="531.88" y2="1720.30" stroke="#ebebeb" stroke-width="1"/>
<line x1="562.86" y1="1599.30" x2="562.86" y2="1720.30" stroke="#ebebeb" stroke-width="1"/>
<line x1="593.84" y1="1599.30" x2="593.84" y2="1720.30" stroke="#ebebeb" stroke-width="1"/>
<line x1="624.82" y1="1599.30" x2="624.82" y2="1720.30" stroke="#ebebeb" stroke-width="1"/>
<line x1="655.80" y1="1599.30" x2="655.80" y2="1720.30" stroke="#ebebeb" stroke-width="1"/>
<line x1="686.78" y1="1599.30" x2="686.78" y2="1720.30" stroke="#ebebeb" stroke-width="1"/>
<line x1="717.76" y1="1599.30" x2="717.76" y2="1720.30" stroke="#ebebeb" stroke-width="1"/>
<line x1="748.74" y1="1599.30" x2="748.74" y2="1720.30" stroke="#ebebeb" stroke-width="1"/>
<line x1="779.72" y1="1599.30" x2="779.72" y2="1720.30" stroke="#ebebeb" stroke-width="1"/>
<line x1="810.70" y1="1599.30" x2="810.70" y2="1720.30" stroke="#ebebeb" stroke-width="1"/>
<line x1="841.68" y1="1599.30" x2="841.68" y2="1720.30" stroke="#ebebeb" stroke-width="1"/>
<line x1="872.66" y1="1599.30" x2="872.66" y2="1720.30" stroke="#ebebeb" stroke-width="1"/>
<line x1="903.64" y1="1599.30" x2="903.64" y2="1720.30" stroke="#ebebeb" stroke-width="1"/>
<line x1="934.62" y1="1599.30" x2="934.62" y2="1720.30" stroke="#ebebeb" stroke-width="1"/>
<line x1="965.60" y1="1599.30" x2="965.60" y2="1720.30" stroke="#ebebeb" stroke-width="1"/>
<line x1="996.58" y1="1599.30" x2="996.58" y2="1720.30" stroke="#ebebeb" stroke-width="1"/>
<line x1="1027.56" y1="1599.30" x2="1027.56" y2="1720.30" stroke="#ebebeb" stroke-width="1"/>
<line x1="1058.54" y1="1599.30" x2="1058.54" y2="1720.30" stroke="#ebebeb" stroke-width="1"/>
<line x1="1089.52" y1="1599.30" x2="1089.52" y2="1720.30" stroke="#ebebeb" stroke-width="1"/>
<line x1="1120.50" y1="1599.30" x2="1120.50" y2="1720.30" stroke="#ebebeb" stroke-width="1"/>
<line x1="1151.48" y1="1599.30" x2="1151.48" y2="1720.30" stroke="#ebebeb" stroke-width="1"/>
<line x1="1182.46" y1="1599.30" x2="1182.46" y2="1720.30" stroke="#ebebeb" stroke-width="1"/>
<line x1="1213.44" y1="1599.30" x2="1213.44" y2="1720.30" stroke="#ebebeb" stroke-width="1"/>
<line x1="1244.42" y1="1599.30" x2="1244.42" y2="1720.30" stroke="#ebebeb" stroke-width="1"/>
<line x1="1275.40" y1="1599.30" x2="1275.40" y2="1720.30" stroke="#ebebeb" stroke-width="1"/>
<line x1="1306.38" y1="1599.30" x2="1306.38" y2="1720.30" stroke="#ebebeb" stroke-width="1"/>
<line x1="1337.36" y1="1599.30" x2="1337.36" y2="1720.30" stroke="#ebebeb" stroke-width="1"/>
<line x1="1368.34" y1="1599.30" x2="1368.34" y2="1720.30" stroke="#ebebeb" stroke-width="1"/>
<line x1="1399.32" y1="1599.30" x2="1399.32" y2="1720.30" stroke="#ebebeb" stroke-width="1"/>
<line x1="1430.30" y1="1599.30" x2="1430.30" y2="1720.30" stroke="#ebebeb" stroke-width="1"/>
<line x1="1461.28" y1="1599.30" x2="1461.28" y2="1720.30" stroke="#ebebeb" stroke-width="1"/>
<rect x="177.20" y="1713.75" width="27.80" height="1.65" fill="#000" stroke="#222" stroke-width="1.1"/>
<rect x="208.18" y="1714.25" width="27.80" height="1.75" fill="#111"/>
<rect x="239.16" y="1714.25" width="27.80" height="1.75" fill="#111"/>
<rect x="270.14" y="1714.14" width="27.80" height="1.86" fill="#111"/>
<rect x="301.12" y="1714.14" width="27.80" height="1.86" fill="#111"/>
<rect x="332.10" y="1714.14" width="27.80" height="1.86" fill="#111"/>
<rect x="363.08" y="1712.97" width="27.80" height="2.43" fill="#000" stroke="#222" stroke-width="1.1"/>
<rect x="394.06" y="1714.47" width="27.80" height="1.53" fill="#111"/>
<rect x="425.04" y="1714.47" width="27.80" height="1.53" fill="#111"/>
<rect x="456.02" y="1714.47" width="27.80" height="1.53" fill="#111"/>
<rect x="487.00" y="1714.14" width="27.80" height="1.86" fill="#111"/>
<rect x="517.98" y="1714.14" width="27.80" height="1.86" fill="#111"/>
<rect x="548.96" y="1714.14" width="27.80" height="1.86" fill="#111"/>
<rect x="579.94" y="1714.14" width="27.80" height="1.86" fill="#111"/>
<rect x="610.92" y="1714.14" width="27.80" height="1.86" fill="#111"/>
<rect x="641.90" y="1713.64" width="27.80" height="1.76" fill="#000" stroke="#222" stroke-width="1.1"/>
<rect x="672.88" y="1711.76" width="27.80" height="3.64" fill="#ff4500" stroke="#222" stroke-width="1.1"/>
<rect x="703.86" y="1714.47" width="27.80" height="1.53" fill="#3a1a10"/>
<rect x="734.84" y="1712.31" width="27.80" height="3.09" fill="#ff4500" stroke="#222" stroke-width="1.1"/>
<rect x="765.82" y="1710.44" width="27.80" height="4.96" fill="#ff4500" stroke="#222" stroke-width="1.1"/>
<rect x="796.80" y="1707.24" width="27.80" height="8.16" fill="#ff4500" stroke="#222" stroke-width="1.1"/>
<rect x="827.78" y="1714.47" width="27.80" height="1.53" fill="#3a1a10"/>
<rect x="858.76" y="1708.34" width="27.80" height="7.06" fill="#ff4500" stroke="#222" stroke-width="1.1"/>
<rect x="889.74" y="1714.14" width="27.80" height="1.86" fill="#3a1a10"/>
<rect x="920.72" y="1714.14" width="27.80" height="1.86" fill="#3a1a10"/>
<rect x="951.70" y="1714.14" width="27.80" height="1.86" fill="#3a1a10"/>
<rect x="982.68" y="1714.14" width="27.80" height="1.86" fill="#3a1a10"/>
<rect x="1013.66" y="1714.14" width="27.80" height="1.86" fill="#3a1a10"/>
<rect x="1044.64" y="1714.25" width="27.80" height="1.75" fill="#3a1a10"/>
<rect x="1075.62" y="1714.14" width="27.80" height="1.86" fill="#3a1a10"/>
<rect x="1106.60" y="1714.14" width="27.80" height="1.86" fill="#3a1a10"/>
<rect x="1137.58" y="1713.81" width="27.80" height="2.19" fill="#3a1a10"/>
<rect x="1168.56" y="1714.47" width="27.80" height="1.53" fill="#3a1a10"/>
<rect x="1199.54" y="1714.14" width="27.80" height="1.86" fill="#3a1a10"/>
<rect x="1230.52" y="1714.14" width="27.80" height="1.86" fill="#3a1a10"/>
<rect x="1261.50" y="1714.14" width="27.80" height="1.86" fill="#3a1a10"/>
<rect x="1292.48" y="1714.14" width="27.80" height="1.86" fill="#3a1a10"/>
<rect x="1323.46" y="1714.14" width="27.80" height="1.86" fill="#3a1a10"/>
<rect x="1354.44" y="1714.14" width="27.80" height="1.86" fill="#3a1a10"/>
<rect x="1385.42" y="1697.65" width="27.80" height="17.75" fill="#ff4500" stroke="#222" stroke-width="1.1"/>
<rect x="1416.40" y="1709.56" width="27.80" height="5.84" fill="#ff4500" stroke="#222" stroke-width="1.1"/>
<rect x="1447.38" y="1714.58" width="27.80" height="1.42" fill="#111"/>
<rect x="172.80" y="1599.30" width="1306.90" height="121.00" fill="none" stroke="#555" stroke-width="1.3"/>
<line x1="168.80" y1="1715.40" x2="172.80" y2="1715.40" stroke="#555" stroke-width="1.1"/>
<line x1="168.80" y1="1693.35" x2="172.80" y2="1693.35" stroke="#555" stroke-width="1.1"/>
<line x1="168.80" y1="1671.30" x2="172.80" y2="1671.30" stroke="#555" stroke-width="1.1"/>
<line x1="168.80" y1="1649.25" x2="172.80" y2="1649.25" stroke="#555" stroke-width="1.1"/>
<line x1="168.80" y1="1627.20" x2="172.80" y2="1627.20" stroke="#555" stroke-width="1.1"/>
<line x1="168.80" y1="1605.15" x2="172.80" y2="1605.15" stroke="#555" stroke-width="1.1"/>
<line x1="191.10" y1="1720.30" x2="191.10" y2="1724.30" stroke="#555" stroke-width="1.1"/>
<line x1="222.08" y1="1720.30" x2="222.08" y2="1724.30" stroke="#555" stroke-width="1.1"/>
<line x1="253.06" y1="1720.30" x2="253.06" y2="1724.30" stroke="#555" stroke-width="1.1"/>
<line x1="284.04" y1="1720.30" x2="284.04" y2="1724.30" stroke="#555" stroke-width="1.1"/>
<line x1="315.02" y1="1720.30" x2="315.02" y2="1724.30" stroke="#555" stroke-width="1.1"/>
<line x1="346.00" y1="1720.30" x2="346.00" y2="1724.30" stroke="#555" stroke-width="1.1"/>
<line x1="376.98" y1="1720.30" x2="376.98" y2="1724.30" stroke="#555" stroke-width="1.1"/>
<line x1="407.96" y1="1720.30" x2="407.96" y2="1724.30" stroke="#555" stroke-width="1.1"/>
<line x1="438.94" y1="1720.30" x2="438.94" y2="1724.30" stroke="#555" stroke-width="1.1"/>
<line x1="469.92" y1="1720.30" x2="469.92" y2="1724.30" stroke="#555" stroke-width="1.1"/>
<line x1="500.90" y1="1720.30" x2="500.90" y2="1724.30" stroke="#555" stroke-width="1.1"/>
<line x1="531.88" y1="1720.30" x2="531.88" y2="1724.30" stroke="#555" stroke-width="1.1"/>
<line x1="562.86" y1="1720.30" x2="562.86" y2="1724.30" stroke="#555" stroke-width="1.1"/>
<line x1="593.84" y1="1720.30" x2="593.84" y2="1724.30" stroke="#555" stroke-width="1.1"/>
<line x1="624.82" y1="1720.30" x2="624.82" y2="1724.30" stroke="#555" stroke-width="1.1"/>
<line x1="655.80" y1="1720.30" x2="655.80" y2="1724.30" stroke="#555" stroke-width="1.1"/>
<line x1="686.78" y1="1720.30" x2="686.78" y2="1724.30" stroke="#555" stroke-width="1.1"/>
<line x1="717.76" y1="1720.30" x2="717.76" y2="1724.30" stroke="#555" stroke-width="1.1"/>
<line x1="748.74" y1="1720.30" x2="748.74" y2="1724.30" stroke="#555" stroke-width="1.1"/>
<line x1="779.72" y1="1720.30" x2="779.72" y2="1724.30" stroke="#555" stroke-width="1.1"/>
<line x1="810.70" y1="1720.30" x2="810.70" y2="1724.30" stroke="#555" stroke-width="1.1"/>
<line x1="841.68" y1="1720.30" x2="841.68" y2="1724.30" stroke="#555" stroke-width="1.1"/>
<line x1="872.66" y1="1720.30" x2="872.66" y2="1724.30" stroke="#555" stroke-width="1.1"/>
<line x1="903.64" y1="1720.30" x2="903.64" y2="1724.30" stroke="#555" stroke-width="1.1"/>
<line x1="934.62" y1="1720.30" x2="934.62" y2="1724.30" stroke="#555" stroke-width="1.1"/>
<line x1="965.60" y1="1720.30" x2="965.60" y2="1724.30" stroke="#555" stroke-width="1.1"/>
<line x1="996.58" y1="1720.30" x2="996.58" y2="1724.30" stroke="#555" stroke-width="1.1"/>
<line x1="1027.56" y1="1720.30" x2="1027.56" y2="1724.30" stroke="#555" stroke-width="1.1"/>
<line x1="1058.54" y1="1720.30" x2="1058.54" y2="1724.30" stroke="#555" stroke-width="1.1"/>
<line x1="1089.52" y1="1720.30" x2="1089.52" y2="1724.30" stroke="#555" stroke-width="1.1"/>
<line x1="1120.50" y1="1720.30" x2="1120.50" y2="1724.30" stroke="#555" stroke-width="1.1"/>
<line x1="1151.48" y1="1720.30" x2="1151.48" y2="1724.30" stroke="#555" stroke-width="1.1"/>
<line x1="1182.46" y1="1720.30" x2="1182.46" y2="1724.30" stroke="#555" stroke-width="1.1"/>
<line x1="1213.44" y1="1720.30" x2="1213.44" y2="1724.30" stroke="#555" stroke-width="1.1"/>
<line x1="1244.42" y1="1720.30" x2="1244.42" y2="1724.30" stroke="#555" stroke-width="1.1"/>
<line x1="1275.40" y1="1720.30" x2="1275.40" y2="1724.30" stroke="#555" stroke-width="1.1"/>
<line x1="1306.38" y1="1720.30" x2="1306.38" y2="1724.30" stroke="#555" stroke-width="1.1"/>
<line x1="1337.36" y1="1720.30" x2="1337.36" y2="1724.30" stroke="#555" stroke-width="1.1"/>
<line x1="1368.34" y1="1720.30" x2="1368.34" y2="1724.30" stroke="#555" stroke-width="1.1"/>
<line x1="1399.32" y1="1720.30" x2="1399.32" y2="1724.30" stroke="#555" stroke-width="1.1"/>
<line x1="1430.30" y1="1720.30" x2="1430.30" y2="1724.30" stroke="#555" stroke-width="1.1"/>
<line x1="1461.28" y1="1720.30" x2="1461.28" y2="1724.30" stroke="#555" stroke-width="1.1"/>
<text x="131.65" y="1635.15" font-size="30.00" fill="#000">80</text>
<text x="131.65" y="1678.05" font-size="30.00" fill="#000">40</text>
<text x="143.40" y="1721.15" font-size="30.00" fill="#000">0</text>
<rect x="177.80" y="1601.20" width="140.20" height="96.10" fill="#fff" stroke="#333" stroke-width="1.4"/>
<use href="#chp" transform="translate(179.70,1649.00) scale(0.02686,0.02709) translate(-85.00,-110.00)"/>
<path d="M234.10,1649.45 L250.92,1649.45 L250.92,1643.30 L258.84,1652.35 L250.92,1661.40 L250.92,1655.25 L234.10,1655.25 Z" fill="#fff" stroke="#000" stroke-width="1.8" stroke-linejoin="miter"/>
<use href="#hum" transform="translate(267.60,1608.80) scale(0.71384,0.70894) translate(-261.00,-116.30)"/>
<rect x="170.10" y="1744.50" width="1307.70" height="35.20" fill="#e3e3e3" stroke="#e8642a" stroke-width="2"/>
<text x="438.08" y="1768.60" font-size="28.72" font-weight="bold" fill="#231f20">% of TE instances gained since the human-macaque split</text>
<rect x="172.80" y="1782.70" width="1306.90" height="121.40" fill="#fff"/>
<line x1="172.80" y1="1887.27" x2="1479.70" y2="1887.27" stroke="#f3f3f3" stroke-width="1"/>
<line x1="172.80" y1="1865.22" x2="1479.70" y2="1865.22" stroke="#f3f3f3" stroke-width="1"/>
<line x1="172.80" y1="1843.17" x2="1479.70" y2="1843.17" stroke="#f3f3f3" stroke-width="1"/>
<line x1="172.80" y1="1821.12" x2="1479.70" y2="1821.12" stroke="#f3f3f3" stroke-width="1"/>
<line x1="172.80" y1="1799.08" x2="1479.70" y2="1799.08" stroke="#f3f3f3" stroke-width="1"/>
<line x1="172.80" y1="1898.30" x2="1479.70" y2="1898.30" stroke="#ebebeb" stroke-width="1.1"/>
<line x1="172.80" y1="1876.25" x2="1479.70" y2="1876.25" stroke="#ebebeb" stroke-width="1.1"/>
<line x1="172.80" y1="1854.20" x2="1479.70" y2="1854.20" stroke="#ebebeb" stroke-width="1.1"/>
<line x1="172.80" y1="1832.15" x2="1479.70" y2="1832.15" stroke="#ebebeb" stroke-width="1.1"/>
<line x1="172.80" y1="1810.10" x2="1479.70" y2="1810.10" stroke="#ebebeb" stroke-width="1.1"/>
<line x1="172.80" y1="1788.05" x2="1479.70" y2="1788.05" stroke="#ebebeb" stroke-width="1.1"/>
<line x1="191.10" y1="1782.70" x2="191.10" y2="1904.10" stroke="#ebebeb" stroke-width="1"/>
<line x1="222.08" y1="1782.70" x2="222.08" y2="1904.10" stroke="#ebebeb" stroke-width="1"/>
<line x1="253.06" y1="1782.70" x2="253.06" y2="1904.10" stroke="#ebebeb" stroke-width="1"/>
<line x1="284.04" y1="1782.70" x2="284.04" y2="1904.10" stroke="#ebebeb" stroke-width="1"/>
<line x1="315.02" y1="1782.70" x2="315.02" y2="1904.10" stroke="#ebebeb" stroke-width="1"/>
<line x1="346.00" y1="1782.70" x2="346.00" y2="1904.10" stroke="#ebebeb" stroke-width="1"/>
<line x1="376.98" y1="1782.70" x2="376.98" y2="1904.10" stroke="#ebebeb" stroke-width="1"/>
<line x1="407.96" y1="1782.70" x2="407.96" y2="1904.10" stroke="#ebebeb" stroke-width="1"/>
<line x1="438.94" y1="1782.70" x2="438.94" y2="1904.10" stroke="#ebebeb" stroke-width="1"/>
<line x1="469.92" y1="1782.70" x2="469.92" y2="1904.10" stroke="#ebebeb" stroke-width="1"/>
<line x1="500.90" y1="1782.70" x2="500.90" y2="1904.10" stroke="#ebebeb" stroke-width="1"/>
<line x1="531.88" y1="1782.70" x2="531.88" y2="1904.10" stroke="#ebebeb" stroke-width="1"/>
<line x1="562.86" y1="1782.70" x2="562.86" y2="1904.10" stroke="#ebebeb" stroke-width="1"/>
<line x1="593.84" y1="1782.70" x2="593.84" y2="1904.10" stroke="#ebebeb" stroke-width="1"/>
<line x1="624.82" y1="1782.70" x2="624.82" y2="1904.10" stroke="#ebebeb" stroke-width="1"/>
<line x1="655.80" y1="1782.70" x2="655.80" y2="1904.10" stroke="#ebebeb" stroke-width="1"/>
<line x1="686.78" y1="1782.70" x2="686.78" y2="1904.10" stroke="#ebebeb" stroke-width="1"/>
<line x1="717.76" y1="1782.70" x2="717.76" y2="1904.10" stroke="#ebebeb" stroke-width="1"/>
<line x1="748.74" y1="1782.70" x2="748.74" y2="1904.10" stroke="#ebebeb" stroke-width="1"/>
<line x1="779.72" y1="1782.70" x2="779.72" y2="1904.10" stroke="#ebebeb" stroke-width="1"/>
<line x1="810.70" y1="1782.70" x2="810.70" y2="1904.10" stroke="#ebebeb" stroke-width="1"/>
<line x1="841.68" y1="1782.70" x2="841.68" y2="1904.10" stroke="#ebebeb" stroke-width="1"/>
<line x1="872.66" y1="1782.70" x2="872.66" y2="1904.10" stroke="#ebebeb" stroke-width="1"/>
<line x1="903.64" y1="1782.70" x2="903.64" y2="1904.10" stroke="#ebebeb" stroke-width="1"/>
<line x1="934.62" y1="1782.70" x2="934.62" y2="1904.10" stroke="#ebebeb" stroke-width="1"/>
<line x1="965.60" y1="1782.70" x2="965.60" y2="1904.10" stroke="#ebebeb" stroke-width="1"/>
<line x1="996.58" y1="1782.70" x2="996.58" y2="1904.10" stroke="#ebebeb" stroke-width="1"/>
<line x1="1027.56" y1="1782.70" x2="1027.56" y2="1904.10" stroke="#ebebeb" stroke-width="1"/>
<line x1="1058.54" y1="1782.70" x2="1058.54" y2="1904.10" stroke="#ebebeb" stroke-width="1"/>
<line x1="1089.52" y1="1782.70" x2="1089.52" y2="1904.10" stroke="#ebebeb" stroke-width="1"/>
<line x1="1120.50" y1="1782.70" x2="1120.50" y2="1904.10" stroke="#ebebeb" stroke-width="1"/>
<line x1="1151.48" y1="1782.70" x2="1151.48" y2="1904.10" stroke="#ebebeb" stroke-width="1"/>
<line x1="1182.46" y1="1782.70" x2="1182.46" y2="1904.10" stroke="#ebebeb" stroke-width="1"/>
<line x1="1213.44" y1="1782.70" x2="1213.44" y2="1904.10" stroke="#ebebeb" stroke-width="1"/>
<line x1="1244.42" y1="1782.70" x2="1244.42" y2="1904.10" stroke="#ebebeb" stroke-width="1"/>
<line x1="1275.40" y1="1782.70" x2="1275.40" y2="1904.10" stroke="#ebebeb" stroke-width="1"/>
<line x1="1306.38" y1="1782.70" x2="1306.38" y2="1904.10" stroke="#ebebeb" stroke-width="1"/>
<line x1="1337.36" y1="1782.70" x2="1337.36" y2="1904.10" stroke="#ebebeb" stroke-width="1"/>
<line x1="1368.34" y1="1782.70" x2="1368.34" y2="1904.10" stroke="#ebebeb" stroke-width="1"/>
<line x1="1399.32" y1="1782.70" x2="1399.32" y2="1904.10" stroke="#ebebeb" stroke-width="1"/>
<line x1="1430.30" y1="1782.70" x2="1430.30" y2="1904.10" stroke="#ebebeb" stroke-width="1"/>
<line x1="1461.28" y1="1782.70" x2="1461.28" y2="1904.10" stroke="#ebebeb" stroke-width="1"/>
<rect x="177.20" y="1896.10" width="27.80" height="2.20" fill="#000" stroke="#222" stroke-width="1.1"/>
<rect x="208.18" y="1897.15" width="27.80" height="1.75" fill="#111"/>
<rect x="239.16" y="1897.15" width="27.80" height="1.75" fill="#111"/>
<rect x="270.14" y="1896.10" width="27.80" height="2.20" fill="#000" stroke="#222" stroke-width="1.1"/>
<rect x="301.12" y="1896.10" width="27.80" height="2.20" fill="#000" stroke="#222" stroke-width="1.1"/>
<rect x="332.10" y="1894.99" width="27.80" height="3.31" fill="#000" stroke="#222" stroke-width="1.1"/>
<rect x="363.08" y="1890.91" width="27.80" height="7.39" fill="#000" stroke="#222" stroke-width="1.1"/>
<rect x="394.06" y="1888.60" width="27.80" height="9.70" fill="#000" stroke="#222" stroke-width="1.1"/>
<rect x="425.04" y="1896.10" width="27.80" height="2.20" fill="#000" stroke="#222" stroke-width="1.1"/>
<rect x="456.02" y="1897.15" width="27.80" height="1.75" fill="#111"/>
<rect x="487.00" y="1896.10" width="27.80" height="2.20" fill="#000" stroke="#222" stroke-width="1.1"/>
<rect x="517.98" y="1896.10" width="27.80" height="2.20" fill="#000" stroke="#222" stroke-width="1.1"/>
<rect x="548.96" y="1896.10" width="27.80" height="2.20" fill="#000" stroke="#222" stroke-width="1.1"/>
<rect x="579.94" y="1896.10" width="27.80" height="2.20" fill="#000" stroke="#222" stroke-width="1.1"/>
<rect x="610.92" y="1896.10" width="27.80" height="2.20" fill="#000" stroke="#222" stroke-width="1.1"/>
<rect x="641.90" y="1887.61" width="27.80" height="10.69" fill="#000" stroke="#222" stroke-width="1.1"/>
<rect x="672.88" y="1851.99" width="27.80" height="46.31" fill="#ff4500" stroke="#222" stroke-width="1.1"/>
<rect x="703.86" y="1869.97" width="27.80" height="28.33" fill="#ff4500" stroke="#222" stroke-width="1.1"/>
<rect x="734.84" y="1859.82" width="27.80" height="38.48" fill="#ff4500" stroke="#222" stroke-width="1.1"/>
<rect x="765.82" y="1791.91" width="27.80" height="106.39" fill="#ff4500" stroke="#222" stroke-width="1.1"/>
<rect x="796.80" y="1844.17" width="27.80" height="54.13" fill="#ff4500" stroke="#222" stroke-width="1.1"/>
<rect x="827.78" y="1821.12" width="27.80" height="77.17" fill="#ff4500" stroke="#222" stroke-width="1.1"/>
<rect x="858.76" y="1810.10" width="27.80" height="88.20" fill="#ff4500" stroke="#222" stroke-width="1.1"/>
<rect x="889.74" y="1890.69" width="27.80" height="7.61" fill="#ff4500" stroke="#222" stroke-width="1.1"/>
<rect x="920.72" y="1890.03" width="27.80" height="8.27" fill="#ff4500" stroke="#222" stroke-width="1.1"/>
<rect x="951.70" y="1889.26" width="27.80" height="9.04" fill="#ff4500" stroke="#222" stroke-width="1.1"/>
<rect x="982.68" y="1889.70" width="27.80" height="8.60" fill="#ff4500" stroke="#222" stroke-width="1.1"/>
<rect x="1013.66" y="1888.49" width="27.80" height="9.81" fill="#ff4500" stroke="#222" stroke-width="1.1"/>
<rect x="1044.64" y="1888.49" width="27.80" height="9.81" fill="#ff4500" stroke="#222" stroke-width="1.1"/>
<rect x="1075.62" y="1886.61" width="27.80" height="11.69" fill="#ff4500" stroke="#222" stroke-width="1.1"/>
<rect x="1106.60" y="1883.20" width="27.80" height="15.10" fill="#ff4500" stroke="#222" stroke-width="1.1"/>
<rect x="1137.58" y="1885.07" width="27.80" height="13.23" fill="#ff4500" stroke="#222" stroke-width="1.1"/>
<rect x="1168.56" y="1883.97" width="27.80" height="14.33" fill="#ff4500" stroke="#222" stroke-width="1.1"/>
<rect x="1199.54" y="1889.70" width="27.80" height="8.60" fill="#ff4500" stroke="#222" stroke-width="1.1"/>
<rect x="1230.52" y="1890.03" width="27.80" height="8.27" fill="#ff4500" stroke="#222" stroke-width="1.1"/>
<rect x="1261.50" y="1890.36" width="27.80" height="7.94" fill="#ff4500" stroke="#222" stroke-width="1.1"/>
<rect x="1292.48" y="1890.03" width="27.80" height="8.27" fill="#ff4500" stroke="#222" stroke-width="1.1"/>
<rect x="1323.46" y="1889.70" width="27.80" height="8.60" fill="#ff4500" stroke="#222" stroke-width="1.1"/>
<rect x="1354.44" y="1888.49" width="27.80" height="9.81" fill="#ff4500" stroke="#222" stroke-width="1.1"/>
<rect x="1385.42" y="1840.97" width="27.80" height="57.33" fill="#ff4500" stroke="#222" stroke-width="1.1"/>
<rect x="1416.40" y="1868.53" width="27.80" height="29.77" fill="#ff4500" stroke="#222" stroke-width="1.1"/>
<rect x="1447.38" y="1888.93" width="27.80" height="9.37" fill="#000" stroke="#222" stroke-width="1.1"/>
<rect x="172.80" y="1782.70" width="1306.90" height="121.40" fill="none" stroke="#555" stroke-width="1.3"/>
<line x1="168.80" y1="1898.30" x2="172.80" y2="1898.30" stroke="#555" stroke-width="1.1"/>
<line x1="168.80" y1="1876.25" x2="172.80" y2="1876.25" stroke="#555" stroke-width="1.1"/>
<line x1="168.80" y1="1854.20" x2="172.80" y2="1854.20" stroke="#555" stroke-width="1.1"/>
<line x1="168.80" y1="1832.15" x2="172.80" y2="1832.15" stroke="#555" stroke-width="1.1"/>
<line x1="168.80" y1="1810.10" x2="172.80" y2="1810.10" stroke="#555" stroke-width="1.1"/>
<line x1="168.80" y1="1788.05" x2="172.80" y2="1788.05" stroke="#555" stroke-width="1.1"/>
<line x1="191.10" y1="1904.10" x2="191.10" y2="1908.10" stroke="#555" stroke-width="1.1"/>
<line x1="222.08" y1="1904.10" x2="222.08" y2="1908.10" stroke="#555" stroke-width="1.1"/>
<line x1="253.06" y1="1904.10" x2="253.06" y2="1908.10" stroke="#555" stroke-width="1.1"/>
<line x1="284.04" y1="1904.10" x2="284.04" y2="1908.10" stroke="#555" stroke-width="1.1"/>
<line x1="315.02" y1="1904.10" x2="315.02" y2="1908.10" stroke="#555" stroke-width="1.1"/>
<line x1="346.00" y1="1904.10" x2="346.00" y2="1908.10" stroke="#555" stroke-width="1.1"/>
<line x1="376.98" y1="1904.10" x2="376.98" y2="1908.10" stroke="#555" stroke-width="1.1"/>
<line x1="407.96" y1="1904.10" x2="407.96" y2="1908.10" stroke="#555" stroke-width="1.1"/>
<line x1="438.94" y1="1904.10" x2="438.94" y2="1908.10" stroke="#555" stroke-width="1.1"/>
<line x1="469.92" y1="1904.10" x2="469.92" y2="1908.10" stroke="#555" stroke-width="1.1"/>
<line x1="500.90" y1="1904.10" x2="500.90" y2="1908.10" stroke="#555" stroke-width="1.1"/>
<line x1="531.88" y1="1904.10" x2="531.88" y2="1908.10" stroke="#555" stroke-width="1.1"/>
<line x1="562.86" y1="1904.10" x2="562.86" y2="1908.10" stroke="#555" stroke-width="1.1"/>
<line x1="593.84" y1="1904.10" x2="593.84" y2="1908.10" stroke="#555" stroke-width="1.1"/>
<line x1="624.82" y1="1904.10" x2="624.82" y2="1908.10" stroke="#555" stroke-width="1.1"/>
<line x1="655.80" y1="1904.10" x2="655.80" y2="1908.10" stroke="#555" stroke-width="1.1"/>
<line x1="686.78" y1="1904.10" x2="686.78" y2="1908.10" stroke="#555" stroke-width="1.1"/>
<line x1="717.76" y1="1904.10" x2="717.76" y2="1908.10" stroke="#555" stroke-width="1.1"/>
<line x1="748.74" y1="1904.10" x2="748.74" y2="1908.10" stroke="#555" stroke-width="1.1"/>
<line x1="779.72" y1="1904.10" x2="779.72" y2="1908.10" stroke="#555" stroke-width="1.1"/>
<line x1="810.70" y1="1904.10" x2="810.70" y2="1908.10" stroke="#555" stroke-width="1.1"/>
<line x1="841.68" y1="1904.10" x2="841.68" y2="1908.10" stroke="#555" stroke-width="1.1"/>
<line x1="872.66" y1="1904.10" x2="872.66" y2="1908.10" stroke="#555" stroke-width="1.1"/>
<line x1="903.64" y1="1904.10" x2="903.64" y2="1908.10" stroke="#555" stroke-width="1.1"/>
<line x1="934.62" y1="1904.10" x2="934.62" y2="1908.10" stroke="#555" stroke-width="1.1"/>
<line x1="965.60" y1="1904.10" x2="965.60" y2="1908.10" stroke="#555" stroke-width="1.1"/>
<line x1="996.58" y1="1904.10" x2="996.58" y2="1908.10" stroke="#555" stroke-width="1.1"/>
<line x1="1027.56" y1="1904.10" x2="1027.56" y2="1908.10" stroke="#555" stroke-width="1.1"/>
<line x1="1058.54" y1="1904.10" x2="1058.54" y2="1908.10" stroke="#555" stroke-width="1.1"/>
<line x1="1089.52" y1="1904.10" x2="1089.52" y2="1908.10" stroke="#555" stroke-width="1.1"/>
<line x1="1120.50" y1="1904.10" x2="1120.50" y2="1908.10" stroke="#555" stroke-width="1.1"/>
<line x1="1151.48" y1="1904.10" x2="1151.48" y2="1908.10" stroke="#555" stroke-width="1.1"/>
<line x1="1182.46" y1="1904.10" x2="1182.46" y2="1908.10" stroke="#555" stroke-width="1.1"/>
<line x1="1213.44" y1="1904.10" x2="1213.44" y2="1908.10" stroke="#555" stroke-width="1.1"/>
<line x1="1244.42" y1="1904.10" x2="1244.42" y2="1908.10" stroke="#555" stroke-width="1.1"/>
<line x1="1275.40" y1="1904.10" x2="1275.40" y2="1908.10" stroke="#555" stroke-width="1.1"/>
<line x1="1306.38" y1="1904.10" x2="1306.38" y2="1908.10" stroke="#555" stroke-width="1.1"/>
<line x1="1337.36" y1="1904.10" x2="1337.36" y2="1908.10" stroke="#555" stroke-width="1.1"/>
<line x1="1368.34" y1="1904.10" x2="1368.34" y2="1908.10" stroke="#555" stroke-width="1.1"/>
<line x1="1399.32" y1="1904.10" x2="1399.32" y2="1908.10" stroke="#555" stroke-width="1.1"/>
<line x1="1430.30" y1="1904.10" x2="1430.30" y2="1908.10" stroke="#555" stroke-width="1.1"/>
<line x1="1461.28" y1="1904.10" x2="1461.28" y2="1908.10" stroke="#555" stroke-width="1.1"/>
<text x="129.95" y="1819.35" font-size="30.00" fill="#000">80</text>
<text x="129.95" y="1859.95" font-size="30.00" fill="#000">40</text>
<text x="143.50" y="1903.35" font-size="30.00" fill="#000">0</text>
<rect x="177.80" y="1783.50" width="140.20" height="97.00" fill="#fff" stroke="#333" stroke-width="1.4"/>
<use href="#mky" transform="translate(183.50,1823.60) scale(0.02329,0.02300) translate(-95.00,-215.00)"/>
<path d="M232.20,1833.48 L249.64,1833.48 L249.64,1827.60 L257.84,1836.25 L249.64,1844.90 L249.64,1839.02 L232.20,1839.02 Z" fill="#fff" stroke="#000" stroke-width="1.8" stroke-linejoin="miter"/>
<use href="#hum" transform="translate(267.60,1790.40) scale(0.71384,0.70553) translate(-261.00,-116.30)"/>
<text transform="translate(81.00,1904.61) rotate(-90)" font-size="31.82" fill="#000">%  gained of total copies</text>
<text transform="translate(110.90,1823.12) rotate(-90)" font-size="32.62" fill="#000">in enhancers</text>
<text transform="translate(1516.09,1216.54) scale(1.0582,1)" font-size="42.67" font-weight="bold" fill="#000" stroke="#000" stroke-width="0.5">g</text>
<text x="1518.04" y="1264.90" font-size="35.95" fill="#231f20">% of enhancers overlapping with</text>
<text x="1517.86" y="1301.50" font-size="36.01" fill="#231f20">enriched TE subfamily instances</text>
<rect x="1585.30" y="1364.00" width="43.50" height="29.40" fill="#f05a0f"/>
<text x="1634.95" y="1388.20" font-size="29.20" font-weight="bold" fill="#000">with enriched pTE</text>
<rect x="1585.90" y="1402.50" width="43.40" height="29.50" fill="#000"/>
<text x="1634.95" y="1426.50" font-size="29.16" font-weight="bold" fill="#000">with enriched ancient TE only</text>
<rect x="1586.70" y="1441.90" width="44.00" height="29.40" fill="#b0b0b0"/>
<text x="1634.95" y="1468.60" font-size="29.24" font-weight="bold" fill="#000">without any TE</text>
<rect x="1628.80" y="1523.40" width="348.10" height="312.30" fill="#fff"/>
<line x1="1628.80" y1="1807.19" x2="1976.90" y2="1807.19" stroke="#f3f3f3" stroke-width="1"/>
<line x1="1628.80" y1="1778.76" x2="1976.90" y2="1778.76" stroke="#f3f3f3" stroke-width="1"/>
<line x1="1628.80" y1="1750.33" x2="1976.90" y2="1750.33" stroke="#f3f3f3" stroke-width="1"/>
<line x1="1628.80" y1="1721.89" x2="1976.90" y2="1721.89" stroke="#f3f3f3" stroke-width="1"/>
<line x1="1628.80" y1="1693.47" x2="1976.90" y2="1693.47" stroke="#f3f3f3" stroke-width="1"/>
<line x1="1628.80" y1="1665.04" x2="1976.90" y2="1665.04" stroke="#f3f3f3" stroke-width="1"/>
<line x1="1628.80" y1="1636.61" x2="1976.90" y2="1636.61" stroke="#f3f3f3" stroke-width="1"/>
<line x1="1628.80" y1="1608.18" x2="1976.90" y2="1608.18" stroke="#f3f3f3" stroke-width="1"/>
<line x1="1628.80" y1="1579.75" x2="1976.90" y2="1579.75" stroke="#f3f3f3" stroke-width="1"/>
<line x1="1628.80" y1="1551.32" x2="1976.90" y2="1551.32" stroke="#f3f3f3" stroke-width="1"/>
<line x1="1628.80" y1="1821.40" x2="1976.90" y2="1821.40" stroke="#ebebeb" stroke-width="1.2"/>
<line x1="1628.80" y1="1792.97" x2="1976.90" y2="1792.97" stroke="#ebebeb" stroke-width="1.2"/>
<line x1="1628.80" y1="1764.54" x2="1976.90" y2="1764.54" stroke="#ebebeb" stroke-width="1.2"/>
<line x1="1628.80" y1="1736.11" x2="1976.90" y2="1736.11" stroke="#ebebeb" stroke-width="1.2"/>
<line x1="1628.80" y1="1707.68" x2="1976.90" y2="1707.68" stroke="#ebebeb" stroke-width="1.2"/>
<line x1="1628.80" y1="1679.25" x2="1976.90" y2="1679.25" stroke="#ebebeb" stroke-width="1.2"/>
<line x1="1628.80" y1="1650.82" x2="1976.90" y2="1650.82" stroke="#ebebeb" stroke-width="1.2"/>
<line x1="1628.80" y1="1622.39" x2="1976.90" y2="1622.39" stroke="#ebebeb" stroke-width="1.2"/>
<line x1="1628.80" y1="1593.96" x2="1976.90" y2="1593.96" stroke="#ebebeb" stroke-width="1.2"/>
<line x1="1628.80" y1="1565.53" x2="1976.90" y2="1565.53" stroke="#ebebeb" stroke-width="1.2"/>
<line x1="1628.80" y1="1537.10" x2="1976.90" y2="1537.10" stroke="#ebebeb" stroke-width="1.2"/>
<line x1="1694.30" y1="1523.40" x2="1694.30" y2="1835.70" stroke="#ebebeb" stroke-width="1.2"/>
<line x1="1803.00" y1="1523.40" x2="1803.00" y2="1835.70" stroke="#ebebeb" stroke-width="1.2"/>
<line x1="1911.70" y1="1523.40" x2="1911.70" y2="1835.70" stroke="#ebebeb" stroke-width="1.2"/>
<rect x="1645.30" y="1537.10" width="97.70" height="102.35" fill="#bebebe"/>
<rect x="1645.30" y="1639.45" width="97.70" height="59.70" fill="#000"/>
<rect x="1645.30" y="1699.15" width="97.70" height="122.25" fill="#fc4600"/>
<rect x="1754.00" y="1537.10" width="97.70" height="56.86" fill="#bebebe"/>
<rect x="1754.00" y="1593.96" width="97.70" height="34.12" fill="#000"/>
<rect x="1754.00" y="1628.08" width="97.70" height="193.32" fill="#fc4600"/>
<rect x="1863.20" y="1537.10" width="97.70" height="79.60" fill="#bebebe"/>
<rect x="1863.20" y="1616.70" width="97.70" height="31.27" fill="#000"/>
<rect x="1863.20" y="1647.98" width="97.70" height="173.42" fill="#fc4600"/>
<rect x="1628.80" y="1523.40" width="348.10" height="312.30" fill="none" stroke="#666" stroke-width="1.4"/>
<rect x="1623.30" y="1819.80" width="5.50" height="3.20" fill="#333"/>
<rect x="1623.30" y="1791.37" width="5.50" height="3.20" fill="#333"/>
<rect x="1623.30" y="1762.94" width="5.50" height="3.20" fill="#333"/>
<rect x="1623.30" y="1734.51" width="5.50" height="3.20" fill="#333"/>
<rect x="1623.30" y="1706.08" width="5.50" height="3.20" fill="#333"/>
<rect x="1623.30" y="1677.65" width="5.50" height="3.20" fill="#333"/>
<rect x="1623.30" y="1649.22" width="5.50" height="3.20" fill="#333"/>
<rect x="1623.30" y="1620.79" width="5.50" height="3.20" fill="#333"/>
<rect x="1623.30" y="1592.36" width="5.50" height="3.20" fill="#333"/>
<rect x="1623.30" y="1563.93" width="5.50" height="3.20" fill="#333"/>
<rect x="1623.30" y="1535.50" width="5.50" height="3.20" fill="#333"/>
<rect x="1692.50" y="1835.70" width="3.60" height="5.50" fill="#333"/>
<rect x="1801.20" y="1835.70" width="3.60" height="5.50" fill="#333"/>
<rect x="1909.90" y="1835.70" width="3.60" height="5.50" fill="#333"/>
<text x="1567.10" y="1548.01" font-size="31.20" fill="#000">100</text>
<text x="1577.59" y="1605.27" font-size="31.80" fill="#000">80</text>
<text x="1577.51" y="1662.72" font-size="31.80" fill="#000">60</text>
<text x="1577.99" y="1720.17" font-size="31.80" fill="#000">40</text>
<text x="1577.51" y="1777.22" font-size="31.80" fill="#000">20</text>
<text x="1589.10" y="1834.67" font-size="31.80" fill="#000">0</text>
<text x="1664.00" y="1598.50" font-size="28.00" font-weight="bold" fill="#fff">36%</text>
<text x="1663.86" y="1680.20" font-size="28.00" font-weight="bold" fill="#fff">21%</text>
<text x="1664.14" y="1771.00" font-size="28.00" font-weight="bold" fill="#fff">43%</text>
<text x="1774.86" y="1575.70" font-size="28.00" font-weight="bold" fill="#fff">20%</text>
<text x="1774.51" y="1621.10" font-size="28.00" font-weight="bold" fill="#fff">12%</text>
<text x="1774.86" y="1734.50" font-size="28.00" font-weight="bold" fill="#fff">68%</text>
<text x="1883.56" y="1586.70" font-size="28.00" font-weight="bold" fill="#fff">28%</text>
<text x="1883.98" y="1642.50" font-size="28.00" font-weight="bold" fill="#fff">11%</text>
<text x="1883.56" y="1744.40" font-size="28.00" font-weight="bold" fill="#fff">61%</text>
<rect x="1635.40" y="1849.50" width="102.90" height="32.50" fill="#000" stroke="#222" stroke-width="1.2"/>
<text x="1648.78" y="1874.80" font-size="27.16" fill="#fff">Static</text>
<rect x="1752.30" y="1849.50" width="102.70" height="32.50" fill="#dde31f" stroke="#222" stroke-width="1.2"/>
<text x="1774.92" y="1874.80" font-size="27.60" fill="#000">Inter</text>
<rect x="1871.50" y="1849.50" width="103.20" height="32.50" fill="#45f214" stroke="#222" stroke-width="1.2"/>
<text x="1883.09" y="1874.80" font-size="27.67" fill="#000">Rapid</text>
<text transform="translate(1559.38,1781.71) rotate(-90)" font-size="28.79" fill="#000">% of enhancers</text></svg></body></html>
